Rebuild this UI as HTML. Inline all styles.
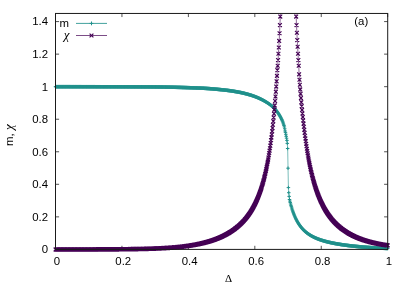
<!DOCTYPE html>
<html><head><meta charset="utf-8"><title>plot</title>
<style>html,body{margin:0;padding:0;background:#fff;font-family:"Liberation Sans",sans-serif;}svg{display:block}</style></head>
<body>
<svg width="408" height="286" viewBox="0 0 408 286">
<rect width="408" height="286" fill="#fff"/>
<path d="M55.5,249.4h3.6M387.7,249.4h-3.6M55.5,216.86h3.6M387.7,216.86h-3.6M55.5,184.31h3.6M387.7,184.31h-3.6M55.5,151.77h3.6M387.7,151.77h-3.6M55.5,119.22h3.6M387.7,119.22h-3.6M55.5,86.68h3.6M387.7,86.68h-3.6M55.5,54.13h3.6M387.7,54.13h-3.6M55.5,21.59h3.6M387.7,21.59h-3.6M55.5,249.4v-3.6M55.5,13.45v3.6M121.94,249.4v-3.6M121.94,13.45v3.6M188.38,249.4v-3.6M188.38,13.45v3.6M254.82,249.4v-3.6M254.82,13.45v3.6M321.26,249.4v-3.6M321.26,13.45v3.6M387.7,249.4v-3.6M387.7,13.45v3.6" stroke="#1a1a1a" stroke-opacity="0.75" stroke-width="1" fill="none"/>
<g fill="none" stroke="#21918c" stroke-width="1">
<path d="M55.5,86.7 L55.87,86.7 L56.24,86.7 L56.61,86.7 L56.98,86.7 L57.35,86.7 L57.71,86.7 L58.08,86.7 L58.45,86.7 L58.82,86.7 L59.19,86.7 L59.56,86.7 L59.93,86.7 L60.3,86.7 L60.67,86.7 L61.04,86.7 L61.41,86.7 L61.77,86.7 L62.14,86.7 L62.51,86.7 L62.88,86.7 L63.25,86.7 L63.62,86.7 L63.99,86.7 L64.36,86.7 L64.73,86.7 L65.1,86.7 L65.47,86.7 L65.84,86.7 L66.2,86.7 L66.57,86.7 L66.94,86.7 L67.31,86.7 L67.68,86.7 L68.05,86.7 L68.42,86.7 L68.79,86.7 L69.16,86.7 L69.53,86.7 L69.9,86.7 L70.26,86.7 L70.63,86.71 L71,86.71 L71.37,86.71 L71.74,86.71 L72.11,86.71 L72.48,86.71 L72.85,86.71 L73.22,86.71 L73.59,86.71 L73.96,86.71 L74.32,86.71 L74.69,86.71 L75.06,86.71 L75.43,86.71 L75.8,86.71 L76.17,86.71 L76.54,86.71 L76.91,86.71 L77.28,86.71 L77.65,86.71 L78.02,86.71 L78.38,86.71 L78.75,86.71 L79.12,86.71 L79.49,86.71 L79.86,86.71 L80.23,86.71 L80.6,86.71 L80.97,86.71 L81.34,86.71 L81.71,86.72 L82.08,86.72 L82.45,86.72 L82.81,86.72 L83.18,86.72 L83.55,86.72 L83.92,86.72 L84.29,86.72 L84.66,86.72 L85.03,86.72 L85.4,86.72 L85.77,86.72 L86.14,86.72 L86.51,86.72 L86.87,86.72 L87.24,86.72 L87.61,86.72 L87.98,86.72 L88.35,86.72 L88.72,86.72 L89.09,86.73 L89.46,86.73 L89.83,86.73 L90.2,86.73 L90.57,86.73 L90.93,86.73 L91.3,86.73 L91.67,86.73 L92.04,86.73 L92.41,86.73 L92.78,86.73 L93.15,86.73 L93.52,86.73 L93.89,86.73 L94.26,86.73 L94.63,86.73 L94.99,86.73 L95.36,86.74 L95.73,86.74 L96.1,86.74 L96.47,86.74 L96.84,86.74 L97.21,86.74 L97.58,86.74 L97.95,86.74 L98.32,86.74 L98.69,86.74 L99.06,86.74 L99.42,86.74 L99.79,86.74 L100.16,86.74 L100.53,86.75 L100.9,86.75 L101.27,86.75 L101.64,86.75 L102.01,86.75 L102.38,86.75 L102.75,86.75 L103.12,86.75 L103.48,86.75 L103.85,86.75 L104.22,86.75 L104.59,86.75 L104.96,86.75 L105.33,86.76 L105.7,86.76 L106.07,86.76 L106.44,86.76 L106.81,86.76 L107.18,86.76 L107.54,86.76 L107.91,86.76 L108.28,86.76 L108.65,86.76 L109.02,86.76 L109.39,86.76 L109.76,86.77 L110.13,86.77 L110.5,86.77 L110.87,86.77 L111.24,86.77 L111.6,86.77 L111.97,86.77 L112.34,86.77 L112.71,86.77 L113.08,86.77 L113.45,86.77 L113.82,86.78 L114.19,86.78 L114.56,86.78 L114.93,86.78 L115.3,86.78 L115.67,86.78 L116.03,86.78 L116.4,86.78 L116.77,86.78 L117.14,86.78 L117.51,86.79 L117.88,86.79 L118.25,86.79 L118.62,86.79 L118.99,86.79 L119.36,86.79 L119.73,86.79 L120.09,86.79 L120.46,86.79 L120.83,86.8 L121.2,86.8 L121.57,86.8 L121.94,86.8 L122.31,86.8 L122.68,86.8 L123.05,86.8 L123.42,86.8 L123.79,86.8 L124.15,86.81 L124.52,86.81 L124.89,86.81 L125.26,86.81 L125.63,86.81 L126,86.81 L126.37,86.81 L126.74,86.81 L127.11,86.81 L127.48,86.82 L127.85,86.82 L128.21,86.82 L128.58,86.82 L128.95,86.82 L129.32,86.82 L129.69,86.82 L130.06,86.82 L130.43,86.83 L130.8,86.83 L131.17,86.83 L131.54,86.83 L131.91,86.83 L132.28,86.83 L132.64,86.83 L133.01,86.83 L133.38,86.84 L133.75,86.84 L134.12,86.84 L134.49,86.84 L134.86,86.84 L135.23,86.84 L135.6,86.84 L135.97,86.84 L136.34,86.85 L136.7,86.85 L137.07,86.85 L137.44,86.85 L137.81,86.85 L138.18,86.85 L138.55,86.85 L138.92,86.86 L139.29,86.86 L139.66,86.86 L140.03,86.86 L140.4,86.86 L140.76,86.86 L141.13,86.86 L141.5,86.87 L141.87,86.87 L142.24,86.87 L142.61,86.87 L142.98,86.87 L143.35,86.87 L143.72,86.87 L144.09,86.88 L144.46,86.88 L144.82,86.88 L145.19,86.88 L145.56,86.88 L145.93,86.88 L146.3,86.88 L146.67,86.89 L147.04,86.89 L147.41,86.89 L147.78,86.89 L148.15,86.89 L148.52,86.89 L148.89,86.9 L149.25,86.9 L149.62,86.9 L149.99,86.9 L150.36,86.9 L150.73,86.9 L151.1,86.91 L151.47,86.91 L151.84,86.91 L152.21,86.91 L152.58,86.91 L152.95,86.92 L153.31,86.92 L153.68,86.92 L154.05,86.93 L154.42,86.93 L154.79,86.93 L155.16,86.93 L155.53,86.94 L155.9,86.94 L156.27,86.95 L156.64,86.95 L157.01,86.95 L157.37,86.96 L157.74,86.96 L158.11,86.97 L158.48,86.97 L158.85,86.97 L159.22,86.98 L159.59,86.98 L159.96,86.99 L160.33,86.99 L160.7,87 L161.07,87 L161.43,87.01 L161.8,87.01 L162.17,87.02 L162.54,87.03 L162.91,87.03 L163.28,87.04 L163.65,87.04 L164.02,87.05 L164.39,87.06 L164.76,87.06 L165.13,87.07 L165.5,87.08 L165.86,87.08 L166.23,87.09 L166.6,87.1 L166.97,87.1 L167.34,87.11 L167.71,87.12 L168.08,87.12 L168.45,87.13 L168.82,87.14 L169.19,87.15 L169.56,87.16 L169.92,87.16 L170.29,87.17 L170.66,87.18 L171.03,87.19 L171.4,87.2 L171.77,87.2 L172.14,87.21 L172.51,87.22 L172.88,87.23 L173.25,87.24 L173.62,87.25 L173.98,87.26 L174.35,87.27 L174.72,87.27 L175.09,87.28 L175.46,87.29 L175.83,87.3 L176.2,87.31 L176.57,87.32 L176.94,87.33 L177.31,87.34 L177.68,87.35 L178.04,87.36 L178.41,87.37 L178.78,87.38 L179.15,87.39 L179.52,87.4 L179.89,87.41 L180.26,87.42 L180.63,87.43 L181,87.44 L181.37,87.45 L181.74,87.47 L182.11,87.48 L182.47,87.49 L182.84,87.5 L183.21,87.51 L183.58,87.52 L183.95,87.53 L184.32,87.54 L184.69,87.56 L185.06,87.57 L185.43,87.58 L185.8,87.59 L186.17,87.6 L186.53,87.61 L186.9,87.63 L187.27,87.64 L187.64,87.65 L188.01,87.66 L188.38,87.68 L188.75,87.69 L189.12,87.7 L189.49,87.71 L189.86,87.73 L190.23,87.74 L190.59,87.75 L190.96,87.76 L191.33,87.78 L191.7,87.79 L192.07,87.8 L192.44,87.82 L192.81,87.83 L193.18,87.84 L193.55,87.86 L193.92,87.87 L194.29,87.88 L194.65,87.9 L195.02,87.91 L195.39,87.92 L195.76,87.94 L196.13,87.95 L196.5,87.97 L196.87,87.98 L197.24,87.99 L197.61,88.01 L197.98,88.02 L198.35,88.04 L198.72,88.05 L199.08,88.06 L199.45,88.08 L199.82,88.09 L200.19,88.11 L200.56,88.12 L200.93,88.14 L201.3,88.15 L201.67,88.17 L202.04,88.19 L202.41,88.21 L202.78,88.23 L203.14,88.24 L203.51,88.26 L203.88,88.28 L204.25,88.3 L204.62,88.33 L204.99,88.35 L205.36,88.37 L205.73,88.39 L206.1,88.41 L206.47,88.44 L206.84,88.46 L207.2,88.49 L207.57,88.51 L207.94,88.54 L208.31,88.56 L208.68,88.59 L209.05,88.62 L209.42,88.64 L209.79,88.67 L210.16,88.7 L210.53,88.73 L210.9,88.76 L211.26,88.78 L211.63,88.81 L212,88.84 L212.37,88.87 L212.74,88.91 L213.11,88.94 L213.48,88.97 L213.85,89 L214.22,89.03 L214.59,89.06 L214.96,89.1 L215.33,89.13 L215.69,89.16 L216.06,89.2 L216.43,89.23 L216.8,89.27 L217.17,89.3 L217.54,89.34 L217.91,89.37 L218.28,89.41 L218.65,89.44 L219.02,89.48 L219.39,89.52 L219.75,89.55 L220.12,89.59 L220.49,89.63 L220.86,89.67 L221.23,89.7 L221.6,89.74 L221.97,89.78 L222.34,89.82 L222.71,89.86 L223.08,89.89 L223.45,89.93 L223.81,89.97 L224.18,90.01 L224.55,90.05 L224.92,90.09 L225.29,90.13 L225.66,90.17 L226.03,90.21 L226.4,90.26 L226.77,90.3 L227.14,90.35 L227.51,90.39 L227.87,90.44 L228.24,90.49 L228.61,90.53 L228.98,90.58 L229.35,90.63 L229.72,90.68 L230.09,90.73 L230.46,90.79 L230.83,90.84 L231.2,90.89 L231.57,90.95 L231.94,91 L232.3,91.06 L232.67,91.12 L233.04,91.18 L233.41,91.23 L233.78,91.29 L234.15,91.35 L234.52,91.41 L234.89,91.48 L235.26,91.54 L235.63,91.6 L236,91.66 L236.36,91.73 L236.73,91.79 L237.1,91.86 L237.47,91.93 L237.84,91.99 L238.21,92.06 L238.58,92.13 L238.95,92.2 L239.32,92.27 L239.69,92.34 L240.06,92.41 L240.42,92.48 L240.79,92.56 L241.16,92.63 L241.53,92.71 L241.9,92.79 L242.27,92.87 L242.64,92.96 L243.01,93.04 L243.38,93.13 L243.75,93.22 L244.12,93.3 L244.48,93.4 L244.85,93.49 L245.22,93.58 L245.59,93.68 L245.96,93.77 L246.33,93.87 L246.7,93.97 L247.07,94.07 L247.44,94.17 L247.81,94.27 L248.18,94.38 L248.55,94.48 L248.91,94.59 L249.28,94.69 L249.65,94.8 L250.02,94.91 L250.39,95.02 L250.76,95.13 L251.13,95.25 L251.5,95.36 L251.87,95.48 L252.24,95.61 L252.61,95.73 L252.97,95.86 L253.34,95.99 L253.71,96.13 L254.08,96.26 L254.45,96.4 L254.82,96.53 L255.19,96.67 L255.56,96.81 L255.93,96.96 L256.3,97.1 L256.67,97.25 L257.03,97.4 L257.4,97.55 L257.77,97.71 L258.14,97.87 L258.51,98.03 L258.88,98.19 L259.25,98.35 L259.62,98.52 L259.99,98.69 L260.36,98.87 L260.73,99.05 L261.09,99.23 L261.46,99.41 L261.83,99.6 L262.2,99.79 L262.57,99.98 L262.94,100.17 L263.31,100.37 L263.68,100.58 L264.05,100.78 L264.42,100.99 L264.79,101.2 L265.16,101.42 L265.52,101.63 L265.89,101.85 L266.26,102.08 L266.63,102.31 L267,102.54 L267.37,102.77 L267.74,103.01 L268.11,103.26 L268.48,103.51 L268.85,103.77 L269.22,104.03 L269.58,104.29 L269.95,104.57 L270.32,104.84 L270.69,105.12 L271.06,105.41 L271.43,105.7 L271.8,105.99 L272.17,106.3 L272.54,106.61 L272.91,106.94 L273.28,107.28 L273.64,107.64 L274.01,108.01 L274.38,108.39 L274.75,108.79 L275.12,109.2 L275.49,109.63 L275.86,110.07 L276.23,110.52 L276.6,110.99 L276.97,111.47 L277.34,111.97 L277.7,112.49 L278.07,113.03 L278.44,113.58 L278.81,114.15 L279.18,114.74 L279.55,115.36 L279.92,115.99 L280.29,116.64 L280.66,117.32 L281.03,118.02 L281.4,118.74 L281.77,119.5 L282.13,120.31 L282.5,121.18 L282.87,122.12 L283.24,123.15 L283.61,124.28 L283.98,125.51 L284.35,126.9 L284.72,128.77 L285.09,130.96 L285.46,132.4 L285.83,134.3 L286.19,136.3 L286.56,138.2 L286.93,140.4 L287.3,143.4 L287.67,148.5 L288.04,168.2 L288.41,187.6 L288.78,192.7 L289.15,196.4 L289.52,199.5 L289.89,201.07 L290.25,202.57 L290.62,204 L290.99,205.37 L291.36,206.67 L291.73,207.92 L292.1,209.11 L292.47,210.25 L292.84,211.34 L293.21,212.39 L293.58,213.39 L293.95,214.35 L294.31,215.27 L294.68,216.16 L295.05,217.01 L295.42,217.82 L295.79,218.61 L296.16,219.36 L296.53,220.09 L296.9,220.79 L297.27,221.46 L297.64,222.11 L298.01,222.73 L298.38,223.34 L298.74,223.92 L299.11,224.48 L299.48,225.02 L299.85,225.54 L300.22,226.05 L300.59,226.54 L300.96,227.01 L301.33,227.47 L301.7,227.91 L302.07,228.34 L302.44,228.76 L302.8,229.16 L303.17,229.55 L303.54,229.93 L303.91,230.29 L304.28,230.65 L304.65,230.99 L305.02,231.33 L305.39,231.66 L305.76,231.97 L306.13,232.28 L306.5,232.58 L306.86,232.87 L307.23,233.15 L307.6,233.43 L307.97,233.7 L308.34,233.96 L308.71,234.21 L309.08,234.46 L309.45,234.7 L309.82,234.94 L310.19,235.17 L310.56,235.39 L310.92,235.61 L311.29,235.82 L311.66,236.03 L312.03,236.24 L312.4,236.43 L312.77,236.63 L313.14,236.82 L313.51,237 L313.88,237.19 L314.25,237.36 L314.62,237.54 L314.99,237.71 L315.35,237.87 L315.72,238.04 L316.09,238.19 L316.46,238.35 L316.83,238.5 L317.2,238.65 L317.57,238.8 L317.94,238.94 L318.31,239.09 L318.68,239.22 L319.05,239.36 L319.41,239.49 L319.78,239.62 L320.15,239.75 L320.52,239.88 L320.89,240 L321.26,240.12 L321.63,240.24 L322,240.36 L322.37,240.48 L322.74,240.59 L323.11,240.7 L323.47,240.81 L323.84,240.92 L324.21,241.02 L324.58,241.13 L324.95,241.23 L325.32,241.33 L325.69,241.43 L326.06,241.53 L326.43,241.62 L326.8,241.72 L327.17,241.81 L327.53,241.9 L327.9,242 L328.27,242.08 L328.64,242.17 L329.01,242.26 L329.38,242.34 L329.75,242.43 L330.12,242.51 L330.49,242.59 L330.86,242.67 L331.23,242.75 L331.6,242.83 L331.96,242.91 L332.33,242.99 L332.7,243.06 L333.07,243.13 L333.44,243.21 L333.81,243.28 L334.18,243.35 L334.55,243.42 L334.92,243.49 L335.29,243.56 L335.66,243.63 L336.02,243.7 L336.39,243.76 L336.76,243.83 L337.13,243.89 L337.5,243.96 L337.87,244.02 L338.24,244.08 L338.61,244.14 L338.98,244.2 L339.35,244.26 L339.72,244.32 L340.08,244.38 L340.45,244.44 L340.82,244.5 L341.19,244.55 L341.56,244.61 L341.93,244.67 L342.3,244.72 L342.67,244.77 L343.04,244.83 L343.41,244.88 L343.78,244.93 L344.14,244.99 L344.51,245.04 L344.88,245.09 L345.25,245.14 L345.62,245.19 L345.99,245.24 L346.36,245.28 L346.73,245.33 L347.1,245.38 L347.47,245.43 L347.84,245.47 L348.21,245.52 L348.57,245.57 L348.94,245.61 L349.31,245.66 L349.68,245.7 L350.05,245.74 L350.42,245.79 L350.79,245.83 L351.16,245.87 L351.53,245.91 L351.9,245.95 L352.27,246 L352.63,246.04 L353,246.08 L353.37,246.12 L353.74,246.16 L354.11,246.19 L354.48,246.23 L354.85,246.27 L355.22,246.31 L355.59,246.35 L355.96,246.38 L356.33,246.42 L356.69,246.46 L357.06,246.49 L357.43,246.53 L357.8,246.56 L358.17,246.6 L358.54,246.63 L358.91,246.67 L359.28,246.7 L359.65,246.73 L360.02,246.77 L360.39,246.8 L360.75,246.83 L361.12,246.86 L361.49,246.9 L361.86,246.93 L362.23,246.96 L362.6,246.99 L362.97,247.02 L363.34,247.05 L363.71,247.08 L364.08,247.11 L364.45,247.14 L364.82,247.17 L365.18,247.2 L365.55,247.22 L365.92,247.25 L366.29,247.28 L366.66,247.31 L367.03,247.33 L367.4,247.36 L367.77,247.39 L368.14,247.41 L368.51,247.44 L368.88,247.47 L369.24,247.49 L369.61,247.52 L369.98,247.54 L370.35,247.57 L370.72,247.59 L371.09,247.62 L371.46,247.64 L371.83,247.66 L372.2,247.69 L372.57,247.71 L372.94,247.73 L373.3,247.76 L373.67,247.78 L374.04,247.8 L374.41,247.82 L374.78,247.84 L375.15,247.87 L375.52,247.89 L375.89,247.91 L376.26,247.93 L376.63,247.95 L377,247.97 L377.36,247.99 L377.73,248.01 L378.1,248.03 L378.47,248.05 L378.84,248.07 L379.21,248.09 L379.58,248.11 L379.95,248.12 L380.32,248.14 L380.69,248.16 L381.06,248.18 L381.43,248.2 L381.79,248.21 L382.16,248.23 L382.53,248.25 L382.9,248.27 L383.27,248.28 L383.64,248.3 L384.01,248.32 L384.38,248.33 L384.75,248.35 L385.12,248.36 L385.49,248.38 L385.85,248.39 L386.22,248.41 L386.59,248.43 L386.96,248.44 L387.33,248.46 L387.7,248.47" stroke-opacity="0.6"/>
<path d="M53.75,86.7h3.5M55.5,84.95v3.5M54.12,86.7h3.5M55.87,84.95v3.5M54.49,86.7h3.5M56.24,84.95v3.5M54.86,86.7h3.5M56.61,84.95v3.5M55.23,86.7h3.5M56.98,84.95v3.5M55.6,86.7h3.5M57.35,84.95v3.5M55.96,86.7h3.5M57.71,84.95v3.5M56.33,86.7h3.5M58.08,84.95v3.5M56.7,86.7h3.5M58.45,84.95v3.5M57.07,86.7h3.5M58.82,84.95v3.5M57.44,86.7h3.5M59.19,84.95v3.5M57.81,86.7h3.5M59.56,84.95v3.5M58.18,86.7h3.5M59.93,84.95v3.5M58.55,86.7h3.5M60.3,84.95v3.5M58.92,86.7h3.5M60.67,84.95v3.5M59.29,86.7h3.5M61.04,84.95v3.5M59.66,86.7h3.5M61.41,84.95v3.5M60.02,86.7h3.5M61.77,84.95v3.5M60.39,86.7h3.5M62.14,84.95v3.5M60.76,86.7h3.5M62.51,84.95v3.5M61.13,86.7h3.5M62.88,84.95v3.5M61.5,86.7h3.5M63.25,84.95v3.5M61.87,86.7h3.5M63.62,84.95v3.5M62.24,86.7h3.5M63.99,84.95v3.5M62.61,86.7h3.5M64.36,84.95v3.5M62.98,86.7h3.5M64.73,84.95v3.5M63.35,86.7h3.5M65.1,84.95v3.5M63.72,86.7h3.5M65.47,84.95v3.5M64.09,86.7h3.5M65.84,84.95v3.5M64.45,86.7h3.5M66.2,84.95v3.5M64.82,86.7h3.5M66.57,84.95v3.5M65.19,86.7h3.5M66.94,84.95v3.5M65.56,86.7h3.5M67.31,84.95v3.5M65.93,86.7h3.5M67.68,84.95v3.5M66.3,86.7h3.5M68.05,84.95v3.5M66.67,86.7h3.5M68.42,84.95v3.5M67.04,86.7h3.5M68.79,84.95v3.5M67.41,86.7h3.5M69.16,84.95v3.5M67.78,86.7h3.5M69.53,84.95v3.5M68.15,86.7h3.5M69.9,84.95v3.5M68.51,86.7h3.5M70.26,84.95v3.5M68.88,86.71h3.5M70.63,84.96v3.5M69.25,86.71h3.5M71,84.96v3.5M69.62,86.71h3.5M71.37,84.96v3.5M69.99,86.71h3.5M71.74,84.96v3.5M70.36,86.71h3.5M72.11,84.96v3.5M70.73,86.71h3.5M72.48,84.96v3.5M71.1,86.71h3.5M72.85,84.96v3.5M71.47,86.71h3.5M73.22,84.96v3.5M71.84,86.71h3.5M73.59,84.96v3.5M72.21,86.71h3.5M73.96,84.96v3.5M72.57,86.71h3.5M74.32,84.96v3.5M72.94,86.71h3.5M74.69,84.96v3.5M73.31,86.71h3.5M75.06,84.96v3.5M73.68,86.71h3.5M75.43,84.96v3.5M74.05,86.71h3.5M75.8,84.96v3.5M74.42,86.71h3.5M76.17,84.96v3.5M74.79,86.71h3.5M76.54,84.96v3.5M75.16,86.71h3.5M76.91,84.96v3.5M75.53,86.71h3.5M77.28,84.96v3.5M75.9,86.71h3.5M77.65,84.96v3.5M76.27,86.71h3.5M78.02,84.96v3.5M76.63,86.71h3.5M78.38,84.96v3.5M77,86.71h3.5M78.75,84.96v3.5M77.37,86.71h3.5M79.12,84.96v3.5M77.74,86.71h3.5M79.49,84.96v3.5M78.11,86.71h3.5M79.86,84.96v3.5M78.48,86.71h3.5M80.23,84.96v3.5M78.85,86.71h3.5M80.6,84.96v3.5M79.22,86.71h3.5M80.97,84.96v3.5M79.59,86.71h3.5M81.34,84.96v3.5M79.96,86.72h3.5M81.71,84.97v3.5M80.33,86.72h3.5M82.08,84.97v3.5M80.7,86.72h3.5M82.45,84.97v3.5M81.06,86.72h3.5M82.81,84.97v3.5M81.43,86.72h3.5M83.18,84.97v3.5M81.8,86.72h3.5M83.55,84.97v3.5M82.17,86.72h3.5M83.92,84.97v3.5M82.54,86.72h3.5M84.29,84.97v3.5M82.91,86.72h3.5M84.66,84.97v3.5M83.28,86.72h3.5M85.03,84.97v3.5M83.65,86.72h3.5M85.4,84.97v3.5M84.02,86.72h3.5M85.77,84.97v3.5M84.39,86.72h3.5M86.14,84.97v3.5M84.76,86.72h3.5M86.51,84.97v3.5M85.12,86.72h3.5M86.87,84.97v3.5M85.49,86.72h3.5M87.24,84.97v3.5M85.86,86.72h3.5M87.61,84.97v3.5M86.23,86.72h3.5M87.98,84.97v3.5M86.6,86.72h3.5M88.35,84.97v3.5M86.97,86.72h3.5M88.72,84.97v3.5M87.34,86.73h3.5M89.09,84.98v3.5M87.71,86.73h3.5M89.46,84.98v3.5M88.08,86.73h3.5M89.83,84.98v3.5M88.45,86.73h3.5M90.2,84.98v3.5M88.82,86.73h3.5M90.57,84.98v3.5M89.18,86.73h3.5M90.93,84.98v3.5M89.55,86.73h3.5M91.3,84.98v3.5M89.92,86.73h3.5M91.67,84.98v3.5M90.29,86.73h3.5M92.04,84.98v3.5M90.66,86.73h3.5M92.41,84.98v3.5M91.03,86.73h3.5M92.78,84.98v3.5M91.4,86.73h3.5M93.15,84.98v3.5M91.77,86.73h3.5M93.52,84.98v3.5M92.14,86.73h3.5M93.89,84.98v3.5M92.51,86.73h3.5M94.26,84.98v3.5M92.88,86.73h3.5M94.63,84.98v3.5M93.24,86.73h3.5M94.99,84.98v3.5M93.61,86.74h3.5M95.36,84.99v3.5M93.98,86.74h3.5M95.73,84.99v3.5M94.35,86.74h3.5M96.1,84.99v3.5M94.72,86.74h3.5M96.47,84.99v3.5M95.09,86.74h3.5M96.84,84.99v3.5M95.46,86.74h3.5M97.21,84.99v3.5M95.83,86.74h3.5M97.58,84.99v3.5M96.2,86.74h3.5M97.95,84.99v3.5M96.57,86.74h3.5M98.32,84.99v3.5M96.94,86.74h3.5M98.69,84.99v3.5M97.31,86.74h3.5M99.06,84.99v3.5M97.67,86.74h3.5M99.42,84.99v3.5M98.04,86.74h3.5M99.79,84.99v3.5M98.41,86.74h3.5M100.16,84.99v3.5M98.78,86.75h3.5M100.53,85v3.5M99.15,86.75h3.5M100.9,85v3.5M99.52,86.75h3.5M101.27,85v3.5M99.89,86.75h3.5M101.64,85v3.5M100.26,86.75h3.5M102.01,85v3.5M100.63,86.75h3.5M102.38,85v3.5M101,86.75h3.5M102.75,85v3.5M101.37,86.75h3.5M103.12,85v3.5M101.73,86.75h3.5M103.48,85v3.5M102.1,86.75h3.5M103.85,85v3.5M102.47,86.75h3.5M104.22,85v3.5M102.84,86.75h3.5M104.59,85v3.5M103.21,86.75h3.5M104.96,85v3.5M103.58,86.76h3.5M105.33,85.01v3.5M103.95,86.76h3.5M105.7,85.01v3.5M104.32,86.76h3.5M106.07,85.01v3.5M104.69,86.76h3.5M106.44,85.01v3.5M105.06,86.76h3.5M106.81,85.01v3.5M105.43,86.76h3.5M107.18,85.01v3.5M105.79,86.76h3.5M107.54,85.01v3.5M106.16,86.76h3.5M107.91,85.01v3.5M106.53,86.76h3.5M108.28,85.01v3.5M106.9,86.76h3.5M108.65,85.01v3.5M107.27,86.76h3.5M109.02,85.01v3.5M107.64,86.76h3.5M109.39,85.01v3.5M108.01,86.77h3.5M109.76,85.02v3.5M108.38,86.77h3.5M110.13,85.02v3.5M108.75,86.77h3.5M110.5,85.02v3.5M109.12,86.77h3.5M110.87,85.02v3.5M109.49,86.77h3.5M111.24,85.02v3.5M109.85,86.77h3.5M111.6,85.02v3.5M110.22,86.77h3.5M111.97,85.02v3.5M110.59,86.77h3.5M112.34,85.02v3.5M110.96,86.77h3.5M112.71,85.02v3.5M111.33,86.77h3.5M113.08,85.02v3.5M111.7,86.77h3.5M113.45,85.02v3.5M112.07,86.78h3.5M113.82,85.03v3.5M112.44,86.78h3.5M114.19,85.03v3.5M112.81,86.78h3.5M114.56,85.03v3.5M113.18,86.78h3.5M114.93,85.03v3.5M113.55,86.78h3.5M115.3,85.03v3.5M113.92,86.78h3.5M115.67,85.03v3.5M114.28,86.78h3.5M116.03,85.03v3.5M114.65,86.78h3.5M116.4,85.03v3.5M115.02,86.78h3.5M116.77,85.03v3.5M115.39,86.78h3.5M117.14,85.03v3.5M115.76,86.79h3.5M117.51,85.04v3.5M116.13,86.79h3.5M117.88,85.04v3.5M116.5,86.79h3.5M118.25,85.04v3.5M116.87,86.79h3.5M118.62,85.04v3.5M117.24,86.79h3.5M118.99,85.04v3.5M117.61,86.79h3.5M119.36,85.04v3.5M117.98,86.79h3.5M119.73,85.04v3.5M118.34,86.79h3.5M120.09,85.04v3.5M118.71,86.79h3.5M120.46,85.04v3.5M119.08,86.8h3.5M120.83,85.05v3.5M119.45,86.8h3.5M121.2,85.05v3.5M119.82,86.8h3.5M121.57,85.05v3.5M120.19,86.8h3.5M121.94,85.05v3.5M120.56,86.8h3.5M122.31,85.05v3.5M120.93,86.8h3.5M122.68,85.05v3.5M121.3,86.8h3.5M123.05,85.05v3.5M121.67,86.8h3.5M123.42,85.05v3.5M122.04,86.8h3.5M123.79,85.05v3.5M122.4,86.81h3.5M124.15,85.06v3.5M122.77,86.81h3.5M124.52,85.06v3.5M123.14,86.81h3.5M124.89,85.06v3.5M123.51,86.81h3.5M125.26,85.06v3.5M123.88,86.81h3.5M125.63,85.06v3.5M124.25,86.81h3.5M126,85.06v3.5M124.62,86.81h3.5M126.37,85.06v3.5M124.99,86.81h3.5M126.74,85.06v3.5M125.36,86.81h3.5M127.11,85.06v3.5M125.73,86.82h3.5M127.48,85.07v3.5M126.1,86.82h3.5M127.85,85.07v3.5M126.46,86.82h3.5M128.21,85.07v3.5M126.83,86.82h3.5M128.58,85.07v3.5M127.2,86.82h3.5M128.95,85.07v3.5M127.57,86.82h3.5M129.32,85.07v3.5M127.94,86.82h3.5M129.69,85.07v3.5M128.31,86.82h3.5M130.06,85.07v3.5M128.68,86.83h3.5M130.43,85.08v3.5M129.05,86.83h3.5M130.8,85.08v3.5M129.42,86.83h3.5M131.17,85.08v3.5M129.79,86.83h3.5M131.54,85.08v3.5M130.16,86.83h3.5M131.91,85.08v3.5M130.53,86.83h3.5M132.28,85.08v3.5M130.89,86.83h3.5M132.64,85.08v3.5M131.26,86.83h3.5M133.01,85.08v3.5M131.63,86.84h3.5M133.38,85.09v3.5M132,86.84h3.5M133.75,85.09v3.5M132.37,86.84h3.5M134.12,85.09v3.5M132.74,86.84h3.5M134.49,85.09v3.5M133.11,86.84h3.5M134.86,85.09v3.5M133.48,86.84h3.5M135.23,85.09v3.5M133.85,86.84h3.5M135.6,85.09v3.5M134.22,86.84h3.5M135.97,85.09v3.5M134.59,86.85h3.5M136.34,85.1v3.5M134.95,86.85h3.5M136.7,85.1v3.5M135.32,86.85h3.5M137.07,85.1v3.5M135.69,86.85h3.5M137.44,85.1v3.5M136.06,86.85h3.5M137.81,85.1v3.5M136.43,86.85h3.5M138.18,85.1v3.5M136.8,86.85h3.5M138.55,85.1v3.5M137.17,86.86h3.5M138.92,85.11v3.5M137.54,86.86h3.5M139.29,85.11v3.5M137.91,86.86h3.5M139.66,85.11v3.5M138.28,86.86h3.5M140.03,85.11v3.5M138.65,86.86h3.5M140.4,85.11v3.5M139.01,86.86h3.5M140.76,85.11v3.5M139.38,86.86h3.5M141.13,85.11v3.5M139.75,86.87h3.5M141.5,85.12v3.5M140.12,86.87h3.5M141.87,85.12v3.5M140.49,86.87h3.5M142.24,85.12v3.5M140.86,86.87h3.5M142.61,85.12v3.5M141.23,86.87h3.5M142.98,85.12v3.5M141.6,86.87h3.5M143.35,85.12v3.5M141.97,86.87h3.5M143.72,85.12v3.5M142.34,86.88h3.5M144.09,85.13v3.5M142.71,86.88h3.5M144.46,85.13v3.5M143.07,86.88h3.5M144.82,85.13v3.5M143.44,86.88h3.5M145.19,85.13v3.5M143.81,86.88h3.5M145.56,85.13v3.5M144.18,86.88h3.5M145.93,85.13v3.5M144.55,86.88h3.5M146.3,85.13v3.5M144.92,86.89h3.5M146.67,85.14v3.5M145.29,86.89h3.5M147.04,85.14v3.5M145.66,86.89h3.5M147.41,85.14v3.5M146.03,86.89h3.5M147.78,85.14v3.5M146.4,86.89h3.5M148.15,85.14v3.5M146.77,86.89h3.5M148.52,85.14v3.5M147.14,86.9h3.5M148.89,85.15v3.5M147.5,86.9h3.5M149.25,85.15v3.5M147.87,86.9h3.5M149.62,85.15v3.5M148.24,86.9h3.5M149.99,85.15v3.5M148.61,86.9h3.5M150.36,85.15v3.5M148.98,86.9h3.5M150.73,85.15v3.5M149.35,86.91h3.5M151.1,85.16v3.5M149.72,86.91h3.5M151.47,85.16v3.5M150.09,86.91h3.5M151.84,85.16v3.5M150.46,86.91h3.5M152.21,85.16v3.5M150.83,86.91h3.5M152.58,85.16v3.5M151.2,86.92h3.5M152.95,85.17v3.5M151.56,86.92h3.5M153.31,85.17v3.5M151.93,86.92h3.5M153.68,85.17v3.5M152.3,86.93h3.5M154.05,85.18v3.5M152.67,86.93h3.5M154.42,85.18v3.5M153.04,86.93h3.5M154.79,85.18v3.5M153.41,86.93h3.5M155.16,85.18v3.5M153.78,86.94h3.5M155.53,85.19v3.5M154.15,86.94h3.5M155.9,85.19v3.5M154.52,86.95h3.5M156.27,85.2v3.5M154.89,86.95h3.5M156.64,85.2v3.5M155.26,86.95h3.5M157.01,85.2v3.5M155.62,86.96h3.5M157.37,85.21v3.5M155.99,86.96h3.5M157.74,85.21v3.5M156.36,86.97h3.5M158.11,85.22v3.5M156.73,86.97h3.5M158.48,85.22v3.5M157.1,86.97h3.5M158.85,85.22v3.5M157.47,86.98h3.5M159.22,85.23v3.5M157.84,86.98h3.5M159.59,85.23v3.5M158.21,86.99h3.5M159.96,85.24v3.5M158.58,86.99h3.5M160.33,85.24v3.5M158.95,87h3.5M160.7,85.25v3.5M159.32,87h3.5M161.07,85.25v3.5M159.68,87.01h3.5M161.43,85.26v3.5M160.05,87.01h3.5M161.8,85.26v3.5M160.42,87.02h3.5M162.17,85.27v3.5M160.79,87.03h3.5M162.54,85.28v3.5M161.16,87.03h3.5M162.91,85.28v3.5M161.53,87.04h3.5M163.28,85.29v3.5M161.9,87.04h3.5M163.65,85.29v3.5M162.27,87.05h3.5M164.02,85.3v3.5M162.64,87.06h3.5M164.39,85.31v3.5M163.01,87.06h3.5M164.76,85.31v3.5M163.38,87.07h3.5M165.13,85.32v3.5M163.75,87.08h3.5M165.5,85.33v3.5M164.11,87.08h3.5M165.86,85.33v3.5M164.48,87.09h3.5M166.23,85.34v3.5M164.85,87.1h3.5M166.6,85.35v3.5M165.22,87.1h3.5M166.97,85.35v3.5M165.59,87.11h3.5M167.34,85.36v3.5M165.96,87.12h3.5M167.71,85.37v3.5M166.33,87.12h3.5M168.08,85.37v3.5M166.7,87.13h3.5M168.45,85.38v3.5M167.07,87.14h3.5M168.82,85.39v3.5M167.44,87.15h3.5M169.19,85.4v3.5M167.81,87.16h3.5M169.56,85.41v3.5M168.17,87.16h3.5M169.92,85.41v3.5M168.54,87.17h3.5M170.29,85.42v3.5M168.91,87.18h3.5M170.66,85.43v3.5M169.28,87.19h3.5M171.03,85.44v3.5M169.65,87.2h3.5M171.4,85.45v3.5M170.02,87.2h3.5M171.77,85.45v3.5M170.39,87.21h3.5M172.14,85.46v3.5M170.76,87.22h3.5M172.51,85.47v3.5M171.13,87.23h3.5M172.88,85.48v3.5M171.5,87.24h3.5M173.25,85.49v3.5M171.87,87.25h3.5M173.62,85.5v3.5M172.23,87.26h3.5M173.98,85.51v3.5M172.6,87.27h3.5M174.35,85.52v3.5M172.97,87.27h3.5M174.72,85.52v3.5M173.34,87.28h3.5M175.09,85.53v3.5M173.71,87.29h3.5M175.46,85.54v3.5M174.08,87.3h3.5M175.83,85.55v3.5M174.45,87.31h3.5M176.2,85.56v3.5M174.82,87.32h3.5M176.57,85.57v3.5M175.19,87.33h3.5M176.94,85.58v3.5M175.56,87.34h3.5M177.31,85.59v3.5M175.93,87.35h3.5M177.68,85.6v3.5M176.29,87.36h3.5M178.04,85.61v3.5M176.66,87.37h3.5M178.41,85.62v3.5M177.03,87.38h3.5M178.78,85.63v3.5M177.4,87.39h3.5M179.15,85.64v3.5M177.77,87.4h3.5M179.52,85.65v3.5M178.14,87.41h3.5M179.89,85.66v3.5M178.51,87.42h3.5M180.26,85.67v3.5M178.88,87.43h3.5M180.63,85.68v3.5M179.25,87.44h3.5M181,85.69v3.5M179.62,87.45h3.5M181.37,85.7v3.5M179.99,87.47h3.5M181.74,85.72v3.5M180.36,87.48h3.5M182.11,85.73v3.5M180.72,87.49h3.5M182.47,85.74v3.5M181.09,87.5h3.5M182.84,85.75v3.5M181.46,87.51h3.5M183.21,85.76v3.5M181.83,87.52h3.5M183.58,85.77v3.5M182.2,87.53h3.5M183.95,85.78v3.5M182.57,87.54h3.5M184.32,85.79v3.5M182.94,87.56h3.5M184.69,85.81v3.5M183.31,87.57h3.5M185.06,85.82v3.5M183.68,87.58h3.5M185.43,85.83v3.5M184.05,87.59h3.5M185.8,85.84v3.5M184.42,87.6h3.5M186.17,85.85v3.5M184.78,87.61h3.5M186.53,85.86v3.5M185.15,87.63h3.5M186.9,85.88v3.5M185.52,87.64h3.5M187.27,85.89v3.5M185.89,87.65h3.5M187.64,85.9v3.5M186.26,87.66h3.5M188.01,85.91v3.5M186.63,87.68h3.5M188.38,85.93v3.5M187,87.69h3.5M188.75,85.94v3.5M187.37,87.7h3.5M189.12,85.95v3.5M187.74,87.71h3.5M189.49,85.96v3.5M188.11,87.73h3.5M189.86,85.98v3.5M188.48,87.74h3.5M190.23,85.99v3.5M188.84,87.75h3.5M190.59,86v3.5M189.21,87.76h3.5M190.96,86.01v3.5M189.58,87.78h3.5M191.33,86.03v3.5M189.95,87.79h3.5M191.7,86.04v3.5M190.32,87.8h3.5M192.07,86.05v3.5M190.69,87.82h3.5M192.44,86.07v3.5M191.06,87.83h3.5M192.81,86.08v3.5M191.43,87.84h3.5M193.18,86.09v3.5M191.8,87.86h3.5M193.55,86.11v3.5M192.17,87.87h3.5M193.92,86.12v3.5M192.54,87.88h3.5M194.29,86.13v3.5M192.9,87.9h3.5M194.65,86.15v3.5M193.27,87.91h3.5M195.02,86.16v3.5M193.64,87.92h3.5M195.39,86.17v3.5M194.01,87.94h3.5M195.76,86.19v3.5M194.38,87.95h3.5M196.13,86.2v3.5M194.75,87.97h3.5M196.5,86.22v3.5M195.12,87.98h3.5M196.87,86.23v3.5M195.49,87.99h3.5M197.24,86.24v3.5M195.86,88.01h3.5M197.61,86.26v3.5M196.23,88.02h3.5M197.98,86.27v3.5M196.6,88.04h3.5M198.35,86.29v3.5M196.97,88.05h3.5M198.72,86.3v3.5M197.33,88.06h3.5M199.08,86.31v3.5M197.7,88.08h3.5M199.45,86.33v3.5M198.07,88.09h3.5M199.82,86.34v3.5M198.44,88.11h3.5M200.19,86.36v3.5M198.81,88.12h3.5M200.56,86.37v3.5M199.18,88.14h3.5M200.93,86.39v3.5M199.55,88.15h3.5M201.3,86.4v3.5M199.92,88.17h3.5M201.67,86.42v3.5M200.29,88.19h3.5M202.04,86.44v3.5M200.66,88.21h3.5M202.41,86.46v3.5M201.03,88.23h3.5M202.78,86.48v3.5M201.39,88.24h3.5M203.14,86.49v3.5M201.76,88.26h3.5M203.51,86.51v3.5M202.13,88.28h3.5M203.88,86.53v3.5M202.5,88.3h3.5M204.25,86.55v3.5M202.87,88.33h3.5M204.62,86.58v3.5M203.24,88.35h3.5M204.99,86.6v3.5M203.61,88.37h3.5M205.36,86.62v3.5M203.98,88.39h3.5M205.73,86.64v3.5M204.35,88.41h3.5M206.1,86.66v3.5M204.72,88.44h3.5M206.47,86.69v3.5M205.09,88.46h3.5M206.84,86.71v3.5M205.45,88.49h3.5M207.2,86.74v3.5M205.82,88.51h3.5M207.57,86.76v3.5M206.19,88.54h3.5M207.94,86.79v3.5M206.56,88.56h3.5M208.31,86.81v3.5M206.93,88.59h3.5M208.68,86.84v3.5M207.3,88.62h3.5M209.05,86.87v3.5M207.67,88.64h3.5M209.42,86.89v3.5M208.04,88.67h3.5M209.79,86.92v3.5M208.41,88.7h3.5M210.16,86.95v3.5M208.78,88.73h3.5M210.53,86.98v3.5M209.15,88.76h3.5M210.9,87.01v3.5M209.51,88.78h3.5M211.26,87.03v3.5M209.88,88.81h3.5M211.63,87.06v3.5M210.25,88.84h3.5M212,87.09v3.5M210.62,88.87h3.5M212.37,87.12v3.5M210.99,88.91h3.5M212.74,87.16v3.5M211.36,88.94h3.5M213.11,87.19v3.5M211.73,88.97h3.5M213.48,87.22v3.5M212.1,89h3.5M213.85,87.25v3.5M212.47,89.03h3.5M214.22,87.28v3.5M212.84,89.06h3.5M214.59,87.31v3.5M213.21,89.1h3.5M214.96,87.35v3.5M213.58,89.13h3.5M215.33,87.38v3.5M213.94,89.16h3.5M215.69,87.41v3.5M214.31,89.2h3.5M216.06,87.45v3.5M214.68,89.23h3.5M216.43,87.48v3.5M215.05,89.27h3.5M216.8,87.52v3.5M215.42,89.3h3.5M217.17,87.55v3.5M215.79,89.34h3.5M217.54,87.59v3.5M216.16,89.37h3.5M217.91,87.62v3.5M216.53,89.41h3.5M218.28,87.66v3.5M216.9,89.44h3.5M218.65,87.69v3.5M217.27,89.48h3.5M219.02,87.73v3.5M217.64,89.52h3.5M219.39,87.77v3.5M218,89.55h3.5M219.75,87.8v3.5M218.37,89.59h3.5M220.12,87.84v3.5M218.74,89.63h3.5M220.49,87.88v3.5M219.11,89.67h3.5M220.86,87.92v3.5M219.48,89.7h3.5M221.23,87.95v3.5M219.85,89.74h3.5M221.6,87.99v3.5M220.22,89.78h3.5M221.97,88.03v3.5M220.59,89.82h3.5M222.34,88.07v3.5M220.96,89.86h3.5M222.71,88.11v3.5M221.33,89.89h3.5M223.08,88.14v3.5M221.7,89.93h3.5M223.45,88.18v3.5M222.06,89.97h3.5M223.81,88.22v3.5M222.43,90.01h3.5M224.18,88.26v3.5M222.8,90.05h3.5M224.55,88.3v3.5M223.17,90.09h3.5M224.92,88.34v3.5M223.54,90.13h3.5M225.29,88.38v3.5M223.91,90.17h3.5M225.66,88.42v3.5M224.28,90.21h3.5M226.03,88.46v3.5M224.65,90.26h3.5M226.4,88.51v3.5M225.02,90.3h3.5M226.77,88.55v3.5M225.39,90.35h3.5M227.14,88.6v3.5M225.76,90.39h3.5M227.51,88.64v3.5M226.12,90.44h3.5M227.87,88.69v3.5M226.49,90.49h3.5M228.24,88.74v3.5M226.86,90.53h3.5M228.61,88.78v3.5M227.23,90.58h3.5M228.98,88.83v3.5M227.6,90.63h3.5M229.35,88.88v3.5M227.97,90.68h3.5M229.72,88.93v3.5M228.34,90.73h3.5M230.09,88.98v3.5M228.71,90.79h3.5M230.46,89.04v3.5M229.08,90.84h3.5M230.83,89.09v3.5M229.45,90.89h3.5M231.2,89.14v3.5M229.82,90.95h3.5M231.57,89.2v3.5M230.19,91h3.5M231.94,89.25v3.5M230.55,91.06h3.5M232.3,89.31v3.5M230.92,91.12h3.5M232.67,89.37v3.5M231.29,91.18h3.5M233.04,89.43v3.5M231.66,91.23h3.5M233.41,89.48v3.5M232.03,91.29h3.5M233.78,89.54v3.5M232.4,91.35h3.5M234.15,89.6v3.5M232.77,91.41h3.5M234.52,89.66v3.5M233.14,91.48h3.5M234.89,89.73v3.5M233.51,91.54h3.5M235.26,89.79v3.5M233.88,91.6h3.5M235.63,89.85v3.5M234.25,91.66h3.5M236,89.91v3.5M234.61,91.73h3.5M236.36,89.98v3.5M234.98,91.79h3.5M236.73,90.04v3.5M235.35,91.86h3.5M237.1,90.11v3.5M235.72,91.93h3.5M237.47,90.18v3.5M236.09,91.99h3.5M237.84,90.24v3.5M236.46,92.06h3.5M238.21,90.31v3.5M236.83,92.13h3.5M238.58,90.38v3.5M237.2,92.2h3.5M238.95,90.45v3.5M237.57,92.27h3.5M239.32,90.52v3.5M237.94,92.34h3.5M239.69,90.59v3.5M238.31,92.41h3.5M240.06,90.66v3.5M238.67,92.48h3.5M240.42,90.73v3.5M239.04,92.56h3.5M240.79,90.81v3.5M239.41,92.63h3.5M241.16,90.88v3.5M239.78,92.71h3.5M241.53,90.96v3.5M240.15,92.79h3.5M241.9,91.04v3.5M240.52,92.87h3.5M242.27,91.12v3.5M240.89,92.96h3.5M242.64,91.21v3.5M241.26,93.04h3.5M243.01,91.29v3.5M241.63,93.13h3.5M243.38,91.38v3.5M242,93.22h3.5M243.75,91.47v3.5M242.37,93.3h3.5M244.12,91.55v3.5M242.73,93.4h3.5M244.48,91.65v3.5M243.1,93.49h3.5M244.85,91.74v3.5M243.47,93.58h3.5M245.22,91.83v3.5M243.84,93.68h3.5M245.59,91.93v3.5M244.21,93.77h3.5M245.96,92.02v3.5M244.58,93.87h3.5M246.33,92.12v3.5M244.95,93.97h3.5M246.7,92.22v3.5M245.32,94.07h3.5M247.07,92.32v3.5M245.69,94.17h3.5M247.44,92.42v3.5M246.06,94.27h3.5M247.81,92.52v3.5M246.43,94.38h3.5M248.18,92.63v3.5M246.8,94.48h3.5M248.55,92.73v3.5M247.16,94.59h3.5M248.91,92.84v3.5M247.53,94.69h3.5M249.28,92.94v3.5M247.9,94.8h3.5M249.65,93.05v3.5M248.27,94.91h3.5M250.02,93.16v3.5M248.64,95.02h3.5M250.39,93.27v3.5M249.01,95.13h3.5M250.76,93.38v3.5M249.38,95.25h3.5M251.13,93.5v3.5M249.75,95.36h3.5M251.5,93.61v3.5M250.12,95.48h3.5M251.87,93.73v3.5M250.49,95.61h3.5M252.24,93.86v3.5M250.86,95.73h3.5M252.61,93.98v3.5M251.22,95.86h3.5M252.97,94.11v3.5M251.59,95.99h3.5M253.34,94.24v3.5M251.96,96.13h3.5M253.71,94.38v3.5M252.33,96.26h3.5M254.08,94.51v3.5M252.7,96.4h3.5M254.45,94.65v3.5M253.07,96.53h3.5M254.82,94.78v3.5M253.44,96.67h3.5M255.19,94.92v3.5M253.81,96.81h3.5M255.56,95.06v3.5M254.18,96.96h3.5M255.93,95.21v3.5M254.55,97.1h3.5M256.3,95.35v3.5M254.92,97.25h3.5M256.67,95.5v3.5M255.28,97.4h3.5M257.03,95.65v3.5M255.65,97.55h3.5M257.4,95.8v3.5M256.02,97.71h3.5M257.77,95.96v3.5M256.39,97.87h3.5M258.14,96.12v3.5M256.76,98.03h3.5M258.51,96.28v3.5M257.13,98.19h3.5M258.88,96.44v3.5M257.5,98.35h3.5M259.25,96.6v3.5M257.87,98.52h3.5M259.62,96.77v3.5M258.24,98.69h3.5M259.99,96.94v3.5M258.61,98.87h3.5M260.36,97.12v3.5M258.98,99.05h3.5M260.73,97.3v3.5M259.34,99.23h3.5M261.09,97.48v3.5M259.71,99.41h3.5M261.46,97.66v3.5M260.08,99.6h3.5M261.83,97.85v3.5M260.45,99.79h3.5M262.2,98.04v3.5M260.82,99.98h3.5M262.57,98.23v3.5M261.19,100.17h3.5M262.94,98.42v3.5M261.56,100.37h3.5M263.31,98.62v3.5M261.93,100.58h3.5M263.68,98.83v3.5M262.3,100.78h3.5M264.05,99.03v3.5M262.67,100.99h3.5M264.42,99.24v3.5M263.04,101.2h3.5M264.79,99.45v3.5M263.41,101.42h3.5M265.16,99.67v3.5M263.77,101.63h3.5M265.52,99.88v3.5M264.14,101.85h3.5M265.89,100.1v3.5M264.51,102.08h3.5M266.26,100.33v3.5M264.88,102.31h3.5M266.63,100.56v3.5M265.25,102.54h3.5M267,100.79v3.5M265.62,102.77h3.5M267.37,101.02v3.5M265.99,103.01h3.5M267.74,101.26v3.5M266.36,103.26h3.5M268.11,101.51v3.5M266.73,103.51h3.5M268.48,101.76v3.5M267.1,103.77h3.5M268.85,102.02v3.5M267.47,104.03h3.5M269.22,102.28v3.5M267.83,104.29h3.5M269.58,102.54v3.5M268.2,104.57h3.5M269.95,102.82v3.5M268.57,104.84h3.5M270.32,103.09v3.5M268.94,105.12h3.5M270.69,103.37v3.5M269.31,105.41h3.5M271.06,103.66v3.5M269.68,105.7h3.5M271.43,103.95v3.5M270.05,105.99h3.5M271.8,104.24v3.5M270.42,106.3h3.5M272.17,104.55v3.5M270.79,106.61h3.5M272.54,104.86v3.5M271.16,106.94h3.5M272.91,105.19v3.5M271.53,107.28h3.5M273.28,105.53v3.5M271.89,107.64h3.5M273.64,105.89v3.5M272.26,108.01h3.5M274.01,106.26v3.5M272.63,108.39h3.5M274.38,106.64v3.5M273,108.79h3.5M274.75,107.04v3.5M273.37,109.2h3.5M275.12,107.45v3.5M273.74,109.63h3.5M275.49,107.88v3.5M274.11,110.07h3.5M275.86,108.32v3.5M274.48,110.52h3.5M276.23,108.77v3.5M274.85,110.99h3.5M276.6,109.24v3.5M275.22,111.47h3.5M276.97,109.72v3.5M275.59,111.97h3.5M277.34,110.22v3.5M275.95,112.49h3.5M277.7,110.74v3.5M276.32,113.03h3.5M278.07,111.28v3.5M276.69,113.58h3.5M278.44,111.83v3.5M277.06,114.15h3.5M278.81,112.4v3.5M277.43,114.74h3.5M279.18,112.99v3.5M277.8,115.36h3.5M279.55,113.61v3.5M278.17,115.99h3.5M279.92,114.24v3.5M278.54,116.64h3.5M280.29,114.89v3.5M278.91,117.32h3.5M280.66,115.57v3.5M279.28,118.02h3.5M281.03,116.27v3.5M279.65,118.74h3.5M281.4,116.99v3.5M280.02,119.5h3.5M281.77,117.75v3.5M280.38,120.31h3.5M282.13,118.56v3.5M280.75,121.18h3.5M282.5,119.43v3.5M281.12,122.12h3.5M282.87,120.37v3.5M281.49,123.15h3.5M283.24,121.4v3.5M281.86,124.28h3.5M283.61,122.53v3.5M282.23,125.51h3.5M283.98,123.76v3.5M282.6,126.9h3.5M284.35,125.15v3.5M282.97,128.77h3.5M284.72,127.02v3.5M283.34,130.96h3.5M285.09,129.21v3.5M283.71,132.4h3.5M285.46,130.65v3.5M284.08,134.3h3.5M285.83,132.55v3.5M284.44,136.3h3.5M286.19,134.55v3.5M284.81,138.2h3.5M286.56,136.45v3.5M285.18,140.4h3.5M286.93,138.65v3.5M285.55,143.4h3.5M287.3,141.65v3.5M285.92,148.5h3.5M287.67,146.75v3.5M286.29,168.2h3.5M288.04,166.45v3.5M286.66,187.6h3.5M288.41,185.85v3.5M287.03,192.7h3.5M288.78,190.95v3.5M287.4,196.4h3.5M289.15,194.65v3.5M287.77,199.5h3.5M289.52,197.75v3.5M288.14,201.07h3.5M289.89,199.32v3.5M288.5,202.57h3.5M290.25,200.82v3.5M288.87,204h3.5M290.62,202.25v3.5M289.24,205.37h3.5M290.99,203.62v3.5M289.61,206.67h3.5M291.36,204.92v3.5M289.98,207.92h3.5M291.73,206.17v3.5M290.35,209.11h3.5M292.1,207.36v3.5M290.72,210.25h3.5M292.47,208.5v3.5M291.09,211.34h3.5M292.84,209.59v3.5M291.46,212.39h3.5M293.21,210.64v3.5M291.83,213.39h3.5M293.58,211.64v3.5M292.2,214.35h3.5M293.95,212.6v3.5M292.56,215.27h3.5M294.31,213.52v3.5M292.93,216.16h3.5M294.68,214.41v3.5M293.3,217.01h3.5M295.05,215.26v3.5M293.67,217.82h3.5M295.42,216.07v3.5M294.04,218.61h3.5M295.79,216.86v3.5M294.41,219.36h3.5M296.16,217.61v3.5M294.78,220.09h3.5M296.53,218.34v3.5M295.15,220.79h3.5M296.9,219.04v3.5M295.52,221.46h3.5M297.27,219.71v3.5M295.89,222.11h3.5M297.64,220.36v3.5M296.26,222.73h3.5M298.01,220.98v3.5M296.63,223.34h3.5M298.38,221.59v3.5M296.99,223.92h3.5M298.74,222.17v3.5M297.36,224.48h3.5M299.11,222.73v3.5M297.73,225.02h3.5M299.48,223.27v3.5M298.1,225.54h3.5M299.85,223.79v3.5M298.47,226.05h3.5M300.22,224.3v3.5M298.84,226.54h3.5M300.59,224.79v3.5M299.21,227.01h3.5M300.96,225.26v3.5M299.58,227.47h3.5M301.33,225.72v3.5M299.95,227.91h3.5M301.7,226.16v3.5M300.32,228.34h3.5M302.07,226.59v3.5M300.69,228.76h3.5M302.44,227.01v3.5M301.05,229.16h3.5M302.8,227.41v3.5M301.42,229.55h3.5M303.17,227.8v3.5M301.79,229.93h3.5M303.54,228.18v3.5M302.16,230.29h3.5M303.91,228.54v3.5M302.53,230.65h3.5M304.28,228.9v3.5M302.9,230.99h3.5M304.65,229.24v3.5M303.27,231.33h3.5M305.02,229.58v3.5M303.64,231.66h3.5M305.39,229.91v3.5M304.01,231.97h3.5M305.76,230.22v3.5M304.38,232.28h3.5M306.13,230.53v3.5M304.75,232.58h3.5M306.5,230.83v3.5M305.11,232.87h3.5M306.86,231.12v3.5M305.48,233.15h3.5M307.23,231.4v3.5M305.85,233.43h3.5M307.6,231.68v3.5M306.22,233.7h3.5M307.97,231.95v3.5M306.59,233.96h3.5M308.34,232.21v3.5M306.96,234.21h3.5M308.71,232.46v3.5M307.33,234.46h3.5M309.08,232.71v3.5M307.7,234.7h3.5M309.45,232.95v3.5M308.07,234.94h3.5M309.82,233.19v3.5M308.44,235.17h3.5M310.19,233.42v3.5M308.81,235.39h3.5M310.56,233.64v3.5M309.17,235.61h3.5M310.92,233.86v3.5M309.54,235.82h3.5M311.29,234.07v3.5M309.91,236.03h3.5M311.66,234.28v3.5M310.28,236.24h3.5M312.03,234.49v3.5M310.65,236.43h3.5M312.4,234.68v3.5M311.02,236.63h3.5M312.77,234.88v3.5M311.39,236.82h3.5M313.14,235.07v3.5M311.76,237h3.5M313.51,235.25v3.5M312.13,237.19h3.5M313.88,235.44v3.5M312.5,237.36h3.5M314.25,235.61v3.5M312.87,237.54h3.5M314.62,235.79v3.5M313.24,237.71h3.5M314.99,235.96v3.5M313.6,237.87h3.5M315.35,236.12v3.5M313.97,238.04h3.5M315.72,236.29v3.5M314.34,238.19h3.5M316.09,236.44v3.5M314.71,238.35h3.5M316.46,236.6v3.5M315.08,238.5h3.5M316.83,236.75v3.5M315.45,238.65h3.5M317.2,236.9v3.5M315.82,238.8h3.5M317.57,237.05v3.5M316.19,238.94h3.5M317.94,237.19v3.5M316.56,239.09h3.5M318.31,237.34v3.5M316.93,239.22h3.5M318.68,237.47v3.5M317.3,239.36h3.5M319.05,237.61v3.5M317.66,239.49h3.5M319.41,237.74v3.5M318.03,239.62h3.5M319.78,237.87v3.5M318.4,239.75h3.5M320.15,238v3.5M318.77,239.88h3.5M320.52,238.13v3.5M319.14,240h3.5M320.89,238.25v3.5M319.51,240.12h3.5M321.26,238.37v3.5M319.88,240.24h3.5M321.63,238.49v3.5M320.25,240.36h3.5M322,238.61v3.5M320.62,240.48h3.5M322.37,238.73v3.5M320.99,240.59h3.5M322.74,238.84v3.5M321.36,240.7h3.5M323.11,238.95v3.5M321.72,240.81h3.5M323.47,239.06v3.5M322.09,240.92h3.5M323.84,239.17v3.5M322.46,241.02h3.5M324.21,239.27v3.5M322.83,241.13h3.5M324.58,239.38v3.5M323.2,241.23h3.5M324.95,239.48v3.5M323.57,241.33h3.5M325.32,239.58v3.5M323.94,241.43h3.5M325.69,239.68v3.5M324.31,241.53h3.5M326.06,239.78v3.5M324.68,241.62h3.5M326.43,239.87v3.5M325.05,241.72h3.5M326.8,239.97v3.5M325.42,241.81h3.5M327.17,240.06v3.5M325.78,241.9h3.5M327.53,240.15v3.5M326.15,242h3.5M327.9,240.25v3.5M326.52,242.08h3.5M328.27,240.33v3.5M326.89,242.17h3.5M328.64,240.42v3.5M327.26,242.26h3.5M329.01,240.51v3.5M327.63,242.34h3.5M329.38,240.59v3.5M328,242.43h3.5M329.75,240.68v3.5M328.37,242.51h3.5M330.12,240.76v3.5M328.74,242.59h3.5M330.49,240.84v3.5M329.11,242.67h3.5M330.86,240.92v3.5M329.48,242.75h3.5M331.23,241v3.5M329.85,242.83h3.5M331.6,241.08v3.5M330.21,242.91h3.5M331.96,241.16v3.5M330.58,242.99h3.5M332.33,241.24v3.5M330.95,243.06h3.5M332.7,241.31v3.5M331.32,243.13h3.5M333.07,241.38v3.5M331.69,243.21h3.5M333.44,241.46v3.5M332.06,243.28h3.5M333.81,241.53v3.5M332.43,243.35h3.5M334.18,241.6v3.5M332.8,243.42h3.5M334.55,241.67v3.5M333.17,243.49h3.5M334.92,241.74v3.5M333.54,243.56h3.5M335.29,241.81v3.5M333.91,243.63h3.5M335.66,241.88v3.5M334.27,243.7h3.5M336.02,241.95v3.5M334.64,243.76h3.5M336.39,242.01v3.5M335.01,243.83h3.5M336.76,242.08v3.5M335.38,243.89h3.5M337.13,242.14v3.5M335.75,243.96h3.5M337.5,242.21v3.5M336.12,244.02h3.5M337.87,242.27v3.5M336.49,244.08h3.5M338.24,242.33v3.5M336.86,244.14h3.5M338.61,242.39v3.5M337.23,244.2h3.5M338.98,242.45v3.5M337.6,244.26h3.5M339.35,242.51v3.5M337.97,244.32h3.5M339.72,242.57v3.5M338.33,244.38h3.5M340.08,242.63v3.5M338.7,244.44h3.5M340.45,242.69v3.5M339.07,244.5h3.5M340.82,242.75v3.5M339.44,244.55h3.5M341.19,242.8v3.5M339.81,244.61h3.5M341.56,242.86v3.5M340.18,244.67h3.5M341.93,242.92v3.5M340.55,244.72h3.5M342.3,242.97v3.5M340.92,244.77h3.5M342.67,243.02v3.5M341.29,244.83h3.5M343.04,243.08v3.5M341.66,244.88h3.5M343.41,243.13v3.5M342.03,244.93h3.5M343.78,243.18v3.5M342.39,244.99h3.5M344.14,243.24v3.5M342.76,245.04h3.5M344.51,243.29v3.5M343.13,245.09h3.5M344.88,243.34v3.5M343.5,245.14h3.5M345.25,243.39v3.5M343.87,245.19h3.5M345.62,243.44v3.5M344.24,245.24h3.5M345.99,243.49v3.5M344.61,245.28h3.5M346.36,243.53v3.5M344.98,245.33h3.5M346.73,243.58v3.5M345.35,245.38h3.5M347.1,243.63v3.5M345.72,245.43h3.5M347.47,243.68v3.5M346.09,245.47h3.5M347.84,243.72v3.5M346.46,245.52h3.5M348.21,243.77v3.5M346.82,245.57h3.5M348.57,243.82v3.5M347.19,245.61h3.5M348.94,243.86v3.5M347.56,245.66h3.5M349.31,243.91v3.5M347.93,245.7h3.5M349.68,243.95v3.5M348.3,245.74h3.5M350.05,243.99v3.5M348.67,245.79h3.5M350.42,244.04v3.5M349.04,245.83h3.5M350.79,244.08v3.5M349.41,245.87h3.5M351.16,244.12v3.5M349.78,245.91h3.5M351.53,244.16v3.5M350.15,245.95h3.5M351.9,244.2v3.5M350.52,246h3.5M352.27,244.25v3.5M350.88,246.04h3.5M352.63,244.29v3.5M351.25,246.08h3.5M353,244.33v3.5M351.62,246.12h3.5M353.37,244.37v3.5M351.99,246.16h3.5M353.74,244.41v3.5M352.36,246.19h3.5M354.11,244.44v3.5M352.73,246.23h3.5M354.48,244.48v3.5M353.1,246.27h3.5M354.85,244.52v3.5M353.47,246.31h3.5M355.22,244.56v3.5M353.84,246.35h3.5M355.59,244.6v3.5M354.21,246.38h3.5M355.96,244.63v3.5M354.58,246.42h3.5M356.33,244.67v3.5M354.94,246.46h3.5M356.69,244.71v3.5M355.31,246.49h3.5M357.06,244.74v3.5M355.68,246.53h3.5M357.43,244.78v3.5M356.05,246.56h3.5M357.8,244.81v3.5M356.42,246.6h3.5M358.17,244.85v3.5M356.79,246.63h3.5M358.54,244.88v3.5M357.16,246.67h3.5M358.91,244.92v3.5M357.53,246.7h3.5M359.28,244.95v3.5M357.9,246.73h3.5M359.65,244.98v3.5M358.27,246.77h3.5M360.02,245.02v3.5M358.64,246.8h3.5M360.39,245.05v3.5M359,246.83h3.5M360.75,245.08v3.5M359.37,246.86h3.5M361.12,245.11v3.5M359.74,246.9h3.5M361.49,245.15v3.5M360.11,246.93h3.5M361.86,245.18v3.5M360.48,246.96h3.5M362.23,245.21v3.5M360.85,246.99h3.5M362.6,245.24v3.5M361.22,247.02h3.5M362.97,245.27v3.5M361.59,247.05h3.5M363.34,245.3v3.5M361.96,247.08h3.5M363.71,245.33v3.5M362.33,247.11h3.5M364.08,245.36v3.5M362.7,247.14h3.5M364.45,245.39v3.5M363.07,247.17h3.5M364.82,245.42v3.5M363.43,247.2h3.5M365.18,245.45v3.5M363.8,247.22h3.5M365.55,245.47v3.5M364.17,247.25h3.5M365.92,245.5v3.5M364.54,247.28h3.5M366.29,245.53v3.5M364.91,247.31h3.5M366.66,245.56v3.5M365.28,247.33h3.5M367.03,245.58v3.5M365.65,247.36h3.5M367.4,245.61v3.5M366.02,247.39h3.5M367.77,245.64v3.5M366.39,247.41h3.5M368.14,245.66v3.5M366.76,247.44h3.5M368.51,245.69v3.5M367.13,247.47h3.5M368.88,245.72v3.5M367.49,247.49h3.5M369.24,245.74v3.5M367.86,247.52h3.5M369.61,245.77v3.5M368.23,247.54h3.5M369.98,245.79v3.5M368.6,247.57h3.5M370.35,245.82v3.5M368.97,247.59h3.5M370.72,245.84v3.5M369.34,247.62h3.5M371.09,245.87v3.5M369.71,247.64h3.5M371.46,245.89v3.5M370.08,247.66h3.5M371.83,245.91v3.5M370.45,247.69h3.5M372.2,245.94v3.5M370.82,247.71h3.5M372.57,245.96v3.5M371.19,247.73h3.5M372.94,245.98v3.5M371.55,247.76h3.5M373.3,246.01v3.5M371.92,247.78h3.5M373.67,246.03v3.5M372.29,247.8h3.5M374.04,246.05v3.5M372.66,247.82h3.5M374.41,246.07v3.5M373.03,247.84h3.5M374.78,246.09v3.5M373.4,247.87h3.5M375.15,246.12v3.5M373.77,247.89h3.5M375.52,246.14v3.5M374.14,247.91h3.5M375.89,246.16v3.5M374.51,247.93h3.5M376.26,246.18v3.5M374.88,247.95h3.5M376.63,246.2v3.5M375.25,247.97h3.5M377,246.22v3.5M375.61,247.99h3.5M377.36,246.24v3.5M375.98,248.01h3.5M377.73,246.26v3.5M376.35,248.03h3.5M378.1,246.28v3.5M376.72,248.05h3.5M378.47,246.3v3.5M377.09,248.07h3.5M378.84,246.32v3.5M377.46,248.09h3.5M379.21,246.34v3.5M377.83,248.11h3.5M379.58,246.36v3.5M378.2,248.12h3.5M379.95,246.37v3.5M378.57,248.14h3.5M380.32,246.39v3.5M378.94,248.16h3.5M380.69,246.41v3.5M379.31,248.18h3.5M381.06,246.43v3.5M379.68,248.2h3.5M381.43,246.45v3.5M380.04,248.21h3.5M381.79,246.46v3.5M380.41,248.23h3.5M382.16,246.48v3.5M380.78,248.25h3.5M382.53,246.5v3.5M381.15,248.27h3.5M382.9,246.52v3.5M381.52,248.28h3.5M383.27,246.53v3.5M381.89,248.3h3.5M383.64,246.55v3.5M382.26,248.32h3.5M384.01,246.57v3.5M382.63,248.33h3.5M384.38,246.58v3.5M383,248.35h3.5M384.75,246.6v3.5M383.37,248.36h3.5M385.12,246.61v3.5M383.74,248.38h3.5M385.49,246.63v3.5M384.1,248.39h3.5M385.85,246.64v3.5M384.47,248.41h3.5M386.22,246.66v3.5M384.84,248.43h3.5M386.59,246.68v3.5M385.21,248.44h3.5M386.96,246.69v3.5M385.58,248.46h3.5M387.33,246.71v3.5M385.95,248.47h3.5M387.7,246.72v3.5"/>
<path d="M76,23.4H107" stroke-opacity="0.85"/><path d="M91.5,21.5v3.8M89.6,23.4h3.8"/>
</g>
<g fill="none" stroke="#440154" stroke-width="1">
<clipPath id="c"><rect x="52.5" y="13.45" width="338.2" height="239.95000000000002"/></clipPath>
<path clip-path="url(#c)" d="M55.5,249.49 L55.87,249.49 L56.24,249.49 L56.61,249.49 L56.98,249.49 L57.35,249.49 L57.71,249.49 L58.08,249.49 L58.45,249.49 L58.82,249.49 L59.19,249.49 L59.56,249.49 L59.93,249.49 L60.3,249.49 L60.67,249.49 L61.04,249.49 L61.41,249.49 L61.77,249.49 L62.14,249.49 L62.51,249.49 L62.88,249.49 L63.25,249.49 L63.62,249.49 L63.99,249.49 L64.36,249.49 L64.73,249.48 L65.1,249.48 L65.47,249.48 L65.84,249.48 L66.2,249.48 L66.57,249.48 L66.94,249.48 L67.31,249.48 L67.68,249.48 L68.05,249.48 L68.42,249.48 L68.79,249.48 L69.16,249.48 L69.53,249.48 L69.9,249.48 L70.26,249.48 L70.63,249.48 L71,249.48 L71.37,249.48 L71.74,249.48 L72.11,249.48 L72.48,249.48 L72.85,249.48 L73.22,249.48 L73.59,249.48 L73.96,249.48 L74.32,249.48 L74.69,249.48 L75.06,249.48 L75.43,249.47 L75.8,249.47 L76.17,249.47 L76.54,249.47 L76.91,249.47 L77.28,249.47 L77.65,249.47 L78.02,249.47 L78.38,249.47 L78.75,249.47 L79.12,249.47 L79.49,249.47 L79.86,249.47 L80.23,249.47 L80.6,249.47 L80.97,249.47 L81.34,249.47 L81.71,249.47 L82.08,249.47 L82.45,249.46 L82.81,249.46 L83.18,249.46 L83.55,249.46 L83.92,249.46 L84.29,249.46 L84.66,249.46 L85.03,249.46 L85.4,249.46 L85.77,249.46 L86.14,249.46 L86.51,249.46 L86.87,249.46 L87.24,249.46 L87.61,249.45 L87.98,249.45 L88.35,249.45 L88.72,249.45 L89.09,249.45 L89.46,249.45 L89.83,249.45 L90.2,249.45 L90.57,249.45 L90.93,249.45 L91.3,249.45 L91.67,249.45 L92.04,249.44 L92.41,249.44 L92.78,249.44 L93.15,249.44 L93.52,249.44 L93.89,249.44 L94.26,249.44 L94.63,249.44 L94.99,249.44 L95.36,249.43 L95.73,249.43 L96.1,249.43 L96.47,249.43 L96.84,249.43 L97.21,249.43 L97.58,249.43 L97.95,249.43 L98.32,249.42 L98.69,249.42 L99.06,249.42 L99.42,249.42 L99.79,249.42 L100.16,249.42 L100.53,249.42 L100.9,249.42 L101.27,249.41 L101.64,249.41 L102.01,249.41 L102.38,249.41 L102.75,249.41 L103.12,249.41 L103.48,249.4 L103.85,249.4 L104.22,249.4 L104.59,249.4 L104.96,249.4 L105.33,249.4 L105.7,249.39 L106.07,249.39 L106.44,249.39 L106.81,249.39 L107.18,249.39 L107.54,249.38 L107.91,249.38 L108.28,249.38 L108.65,249.38 L109.02,249.38 L109.39,249.37 L109.76,249.37 L110.13,249.37 L110.5,249.37 L110.87,249.37 L111.24,249.36 L111.6,249.36 L111.97,249.36 L112.34,249.36 L112.71,249.35 L113.08,249.35 L113.45,249.35 L113.82,249.35 L114.19,249.34 L114.56,249.34 L114.93,249.34 L115.3,249.34 L115.67,249.33 L116.03,249.33 L116.4,249.33 L116.77,249.32 L117.14,249.32 L117.51,249.32 L117.88,249.31 L118.25,249.31 L118.62,249.31 L118.99,249.31 L119.36,249.3 L119.73,249.3 L120.09,249.3 L120.46,249.29 L120.83,249.29 L121.2,249.28 L121.57,249.28 L121.94,249.28 L122.31,249.27 L122.68,249.27 L123.05,249.27 L123.42,249.26 L123.79,249.26 L124.15,249.25 L124.52,249.25 L124.89,249.25 L125.26,249.24 L125.63,249.24 L126,249.23 L126.37,249.23 L126.74,249.22 L127.11,249.22 L127.48,249.21 L127.85,249.21 L128.21,249.2 L128.58,249.2 L128.95,249.19 L129.32,249.19 L129.69,249.18 L130.06,249.18 L130.43,249.17 L130.8,249.17 L131.17,249.16 L131.54,249.16 L131.91,249.15 L132.28,249.15 L132.64,249.14 L133.01,249.13 L133.38,249.13 L133.75,249.12 L134.12,249.12 L134.49,249.11 L134.86,249.1 L135.23,249.1 L135.6,249.09 L135.97,249.08 L136.34,249.08 L136.7,249.07 L137.07,249.06 L137.44,249.06 L137.81,249.05 L138.18,249.04 L138.55,249.03 L138.92,249.03 L139.29,249.02 L139.66,249.01 L140.03,249 L140.4,248.99 L140.76,248.99 L141.13,248.98 L141.5,248.97 L141.87,248.96 L142.24,248.95 L142.61,248.94 L142.98,248.93 L143.35,248.92 L143.72,248.91 L144.09,248.91 L144.46,248.9 L144.82,248.89 L145.19,248.88 L145.56,248.87 L145.93,248.86 L146.3,248.85 L146.67,248.84 L147.04,248.82 L147.41,248.81 L147.78,248.8 L148.15,248.79 L148.52,248.78 L148.89,248.77 L149.25,248.76 L149.62,248.75 L149.99,248.73 L150.36,248.72 L150.73,248.71 L151.1,248.7 L151.47,248.68 L151.84,248.67 L152.21,248.66 L152.58,248.64 L152.95,248.63 L153.31,248.62 L153.68,248.6 L154.05,248.59 L154.42,248.57 L154.79,248.56 L155.16,248.54 L155.53,248.53 L155.9,248.51 L156.27,248.5 L156.64,248.48 L157.01,248.47 L157.37,248.45 L157.74,248.43 L158.11,248.42 L158.48,248.4 L158.85,248.38 L159.22,248.37 L159.59,248.35 L159.96,248.33 L160.33,248.31 L160.7,248.29 L161.07,248.27 L161.43,248.26 L161.8,248.24 L162.17,248.22 L162.54,248.2 L162.91,248.18 L163.28,248.16 L163.65,248.13 L164.02,248.11 L164.39,248.09 L164.76,248.07 L165.13,248.05 L165.5,248.03 L165.86,248 L166.23,247.98 L166.6,247.96 L166.97,247.93 L167.34,247.91 L167.71,247.89 L168.08,247.86 L168.45,247.84 L168.82,247.81 L169.19,247.78 L169.56,247.76 L169.92,247.73 L170.29,247.7 L170.66,247.68 L171.03,247.65 L171.4,247.62 L171.77,247.59 L172.14,247.56 L172.51,247.54 L172.88,247.51 L173.25,247.48 L173.62,247.45 L173.98,247.41 L174.35,247.38 L174.72,247.35 L175.09,247.32 L175.46,247.29 L175.83,247.25 L176.2,247.22 L176.57,247.19 L176.94,247.15 L177.31,247.12 L177.68,247.08 L178.04,247.04 L178.41,247.01 L178.78,246.97 L179.15,246.93 L179.52,246.89 L179.89,246.86 L180.26,246.82 L180.63,246.78 L181,246.74 L181.37,246.7 L181.74,246.66 L182.11,246.61 L182.47,246.57 L182.84,246.53 L183.21,246.48 L183.58,246.44 L183.95,246.39 L184.32,246.35 L184.69,246.3 L185.06,246.26 L185.43,246.21 L185.8,246.16 L186.17,246.11 L186.53,246.06 L186.9,246.01 L187.27,245.96 L187.64,245.91 L188.01,245.86 L188.38,245.81 L188.75,245.75 L189.12,245.7 L189.49,245.64 L189.86,245.59 L190.23,245.53 L190.59,245.48 L190.96,245.42 L191.33,245.36 L191.7,245.3 L192.07,245.24 L192.44,245.18 L192.81,245.12 L193.18,245.05 L193.55,244.99 L193.92,244.93 L194.29,244.86 L194.65,244.8 L195.02,244.73 L195.39,244.66 L195.76,244.59 L196.13,244.52 L196.5,244.45 L196.87,244.38 L197.24,244.31 L197.61,244.24 L197.98,244.16 L198.35,244.09 L198.72,244.01 L199.08,243.93 L199.45,243.85 L199.82,243.78 L200.19,243.7 L200.56,243.61 L200.93,243.53 L201.3,243.45 L201.67,243.36 L202.04,243.28 L202.41,243.19 L202.78,243.1 L203.14,243.02 L203.51,242.93 L203.88,242.83 L204.25,242.74 L204.62,242.65 L204.99,242.55 L205.36,242.46 L205.73,242.36 L206.1,242.26 L206.47,242.16 L206.84,242.06 L207.2,241.96 L207.57,241.85 L207.94,241.75 L208.31,241.64 L208.68,241.54 L209.05,241.43 L209.42,241.32 L209.79,241.2 L210.16,241.09 L210.53,240.98 L210.9,240.86 L211.26,240.74 L211.63,240.62 L212,240.5 L212.37,240.38 L212.74,240.25 L213.11,240.13 L213.48,240 L213.85,239.87 L214.22,239.74 L214.59,239.61 L214.96,239.48 L215.33,239.34 L215.69,239.2 L216.06,239.06 L216.43,238.92 L216.8,238.78 L217.17,238.64 L217.54,238.49 L217.91,238.34 L218.28,238.19 L218.65,238.04 L219.02,237.88 L219.39,237.73 L219.75,237.57 L220.12,237.41 L220.49,237.25 L220.86,237.08 L221.23,236.92 L221.6,236.75 L221.97,236.57 L222.34,236.4 L222.71,236.23 L223.08,236.05 L223.45,235.87 L223.81,235.68 L224.18,235.5 L224.55,235.31 L224.92,235.12 L225.29,234.93 L225.66,234.73 L226.03,234.54 L226.4,234.34 L226.77,234.13 L227.14,233.93 L227.51,233.72 L227.87,233.51 L228.24,233.29 L228.61,233.07 L228.98,232.85 L229.35,232.63 L229.72,232.4 L230.09,232.17 L230.46,231.94 L230.83,231.7 L231.2,231.46 L231.57,231.22 L231.94,230.97 L232.3,230.72 L232.67,230.47 L233.04,230.21 L233.41,229.95 L233.78,229.69 L234.15,229.42 L234.52,229.15 L234.89,228.87 L235.26,228.59 L235.63,228.31 L236,228.02 L236.36,227.72 L236.73,227.43 L237.1,227.12 L237.47,226.82 L237.84,226.51 L238.21,226.19 L238.58,225.87 L238.95,225.54 L239.32,225.21 L239.69,224.87 L240.06,224.53 L240.42,224.18 L240.79,223.83 L241.16,223.47 L241.53,223.11 L241.9,222.74 L242.27,222.36 L242.64,221.98 L243.01,221.59 L243.38,221.19 L243.75,220.79 L244.12,220.38 L244.48,219.96 L244.85,219.53 L245.22,219.1 L245.59,218.66 L245.96,218.21 L246.33,217.76 L246.7,217.29 L247.07,216.82 L247.44,216.34 L247.81,215.85 L248.18,215.35 L248.55,214.84 L248.91,214.32 L249.28,213.79 L249.65,213.25 L250.02,212.69 L250.39,212.13 L250.76,211.56 L251.13,210.97 L251.5,210.37 L251.87,209.76 L252.24,209.14 L252.61,208.5 L252.97,207.85 L253.34,207.18 L253.71,206.5 L254.08,205.81 L254.45,205.1 L254.82,204.37 L255.19,203.62 L255.56,202.86 L255.93,202.08 L256.3,201.28 L256.67,200.46 L257.03,199.63 L257.4,198.77 L257.77,197.89 L258.14,196.98 L258.51,196.05 L258.88,195.1 L259.25,194.13 L259.62,193.12 L259.99,192.09 L260.36,191.03 L260.73,189.95 L261.09,188.83 L261.46,187.68 L261.83,186.49 L262.2,185.28 L262.57,184.02 L262.94,182.73 L263.31,181.4 L263.68,180.02 L264.05,178.61 L264.42,177.15 L264.79,175.64 L265.16,174.09 L265.52,172.48 L265.89,170.82 L266.26,169.1 L266.63,167.33 L267,165.49 L267.37,163.59 L267.74,161.62 L268.11,159.59 L268.48,157.47 L268.85,155.28 L269.22,153.01 L269.58,150.65 L269.95,148.2 L270.32,145.66 L270.69,143.02 L271.06,140.27 L271.43,137.41 L271.8,134.44 L272.17,131.34 L272.54,128.11 L272.91,124.72 L273.28,121.19 L273.64,117.5 L274.01,113.65 L274.38,109.63 L274.75,105.43 L275.12,101.04 L275.49,96.44 L275.86,91.64 L276.23,86.61 L276.6,81.34 L276.97,75.87 L277.34,70.18 L277.7,65.7 L278.07,60.1 L278.44,53.7 L278.81,47.5 L279.18,40.9 L279.55,33.2 L279.92,25.1 L280.29,16.6 L280.66,7.6M295.79,7.6 L296.16,16.6 L296.53,25.1 L296.9,32.8 L297.27,40.1 L297.64,46.8 L298.01,53.7 L298.38,60.1 L298.74,65.7 L299.11,74.35 L299.48,79.75 L299.85,84.79 L300.22,89.41 L300.59,93.84 L300.96,98.1 L301.33,102.19 L301.7,106.13 L302.07,109.91 L302.44,113.55 L302.8,117.06 L303.17,120.43 L303.54,123.67 L303.91,126.8 L304.28,129.82 L304.65,132.83 L305.02,135.73 L305.39,138.52 L305.76,141.2 L306.13,143.79 L306.5,146.29 L306.86,148.69 L307.23,151.02 L307.6,153.26 L307.97,155.42 L308.34,157.51 L308.71,159.54 L309.08,161.49 L309.45,163.38 L309.82,165.22 L310.19,166.99 L310.56,168.71 L310.92,170.37 L311.29,171.99 L311.66,173.56 L312.03,175.08 L312.4,176.55 L312.77,177.99 L313.14,179.38 L313.51,180.73 L313.88,182.05 L314.25,183.33 L314.62,184.57 L314.99,185.78 L315.35,186.96 L315.72,188.11 L316.09,189.23 L316.46,190.31 L316.83,191.38 L317.2,192.41 L317.57,193.42 L317.94,194.4 L318.31,195.36 L318.68,196.3 L319.05,197.21 L319.41,198.11 L319.78,198.98 L320.15,199.83 L320.52,200.66 L320.89,201.48 L321.26,202.27 L321.63,203.05 L322,203.81 L322.37,204.55 L322.74,205.28 L323.11,205.99 L323.47,206.69 L323.84,207.37 L324.21,208.04 L324.58,208.69 L324.95,209.33 L325.32,209.96 L325.69,210.58 L326.06,211.18 L326.43,211.77 L326.8,212.35 L327.17,212.92 L327.53,213.47 L327.9,214.02 L328.27,214.55 L328.64,215.08 L329.01,215.59 L329.38,216.1 L329.75,216.6 L330.12,217.08 L330.49,217.56 L330.86,218.03 L331.23,218.49 L331.6,218.95 L331.96,219.39 L332.33,219.83 L332.7,220.26 L333.07,220.68 L333.44,221.09 L333.81,221.5 L334.18,221.9 L334.55,222.29 L334.92,222.68 L335.29,223.06 L335.66,223.44 L336.02,223.8 L336.39,224.16 L336.76,224.52 L337.13,224.87 L337.5,225.21 L337.87,225.55 L338.24,225.89 L338.61,226.21 L338.98,226.54 L339.35,226.85 L339.72,227.17 L340.08,227.47 L340.45,227.78 L340.82,228.07 L341.19,228.37 L341.56,228.65 L341.93,228.94 L342.3,229.22 L342.67,229.49 L343.04,229.77 L343.41,230.03 L343.78,230.3 L344.14,230.55 L344.51,230.81 L344.88,231.06 L345.25,231.31 L345.62,231.55 L345.99,231.79 L346.36,232.03 L346.73,232.26 L347.1,232.49 L347.47,232.72 L347.84,232.94 L348.21,233.16 L348.57,233.38 L348.94,233.59 L349.31,233.8 L349.68,234.01 L350.05,234.21 L350.42,234.42 L350.79,234.61 L351.16,234.81 L351.53,235 L351.9,235.19 L352.27,235.38 L352.63,235.57 L353,235.75 L353.37,235.93 L353.74,236.11 L354.11,236.28 L354.48,236.45 L354.85,236.62 L355.22,236.79 L355.59,236.96 L355.96,237.12 L356.33,237.28 L356.69,237.44 L357.06,237.59 L357.43,237.75 L357.8,237.9 L358.17,238.05 L358.54,238.2 L358.91,238.35 L359.28,238.49 L359.65,238.63 L360.02,238.77 L360.39,238.91 L360.75,239.05 L361.12,239.18 L361.49,239.31 L361.86,239.44 L362.23,239.57 L362.6,239.7 L362.97,239.83 L363.34,239.95 L363.71,240.07 L364.08,240.19 L364.45,240.31 L364.82,240.43 L365.18,240.55 L365.55,240.66 L365.92,240.77 L366.29,240.88 L366.66,240.99 L367.03,241.1 L367.4,241.21 L367.77,241.31 L368.14,241.42 L368.51,241.52 L368.88,241.62 L369.24,241.72 L369.61,241.82 L369.98,241.92 L370.35,242.02 L370.72,242.11 L371.09,242.2 L371.46,242.3 L371.83,242.39 L372.2,242.48 L372.57,242.57 L372.94,242.65 L373.3,242.74 L373.67,242.83 L374.04,242.91 L374.41,242.99 L374.78,243.08 L375.15,243.16 L375.52,243.24 L375.89,243.32 L376.26,243.39 L376.63,243.47 L377,243.55 L377.36,243.62 L377.73,243.7 L378.1,243.77 L378.47,243.84 L378.84,243.91 L379.21,243.98 L379.58,244.05 L379.95,244.12 L380.32,244.19 L380.69,244.25 L381.06,244.32 L381.43,244.39 L381.79,244.45 L382.16,244.51 L382.53,244.58 L382.9,244.64 L383.27,244.7 L383.64,244.76 L384.01,244.82 L384.38,244.88 L384.75,244.93 L385.12,244.99 L385.49,245.05 L385.85,245.1 L386.22,245.16 L386.59,245.21 L386.96,245.27 L387.33,245.32 L387.7,245.37" stroke-opacity="0.6"/>
<path d="M55.5,249.49 L55.87,249.49 L56.24,249.49 L56.61,249.49 L56.98,249.49 L57.35,249.49 L57.71,249.49 L58.08,249.49 L58.45,249.49 L58.82,249.49 L59.19,249.49 L59.56,249.49 L59.93,249.49 L60.3,249.49 L60.67,249.49 L61.04,249.49 L61.41,249.49 L61.77,249.49 L62.14,249.49 L62.51,249.49 L62.88,249.49 L63.25,249.49 L63.62,249.49 L63.99,249.49 L64.36,249.49 L64.73,249.48 L65.1,249.48 L65.47,249.48 L65.84,249.48 L66.2,249.48 L66.57,249.48 L66.94,249.48 L67.31,249.48 L67.68,249.48 L68.05,249.48 L68.42,249.48 L68.79,249.48 L69.16,249.48 L69.53,249.48 L69.9,249.48 L70.26,249.48 L70.63,249.48 L71,249.48 L71.37,249.48 L71.74,249.48 L72.11,249.48 L72.48,249.48 L72.85,249.48 L73.22,249.48 L73.59,249.48 L73.96,249.48 L74.32,249.48 L74.69,249.48 L75.06,249.48 L75.43,249.47 L75.8,249.47 L76.17,249.47 L76.54,249.47 L76.91,249.47 L77.28,249.47 L77.65,249.47 L78.02,249.47 L78.38,249.47 L78.75,249.47 L79.12,249.47 L79.49,249.47 L79.86,249.47 L80.23,249.47 L80.6,249.47 L80.97,249.47 L81.34,249.47 L81.71,249.47 L82.08,249.47 L82.45,249.46 L82.81,249.46 L83.18,249.46 L83.55,249.46 L83.92,249.46 L84.29,249.46 L84.66,249.46 L85.03,249.46 L85.4,249.46 L85.77,249.46 L86.14,249.46 L86.51,249.46 L86.87,249.46 L87.24,249.46 L87.61,249.45 L87.98,249.45 L88.35,249.45 L88.72,249.45 L89.09,249.45 L89.46,249.45 L89.83,249.45 L90.2,249.45 L90.57,249.45 L90.93,249.45 L91.3,249.45 L91.67,249.45 L92.04,249.44 L92.41,249.44 L92.78,249.44 L93.15,249.44 L93.52,249.44 L93.89,249.44 L94.26,249.44 L94.63,249.44 L94.99,249.44 L95.36,249.43 L95.73,249.43 L96.1,249.43 L96.47,249.43 L96.84,249.43 L97.21,249.43 L97.58,249.43 L97.95,249.43 L98.32,249.42 L98.69,249.42 L99.06,249.42 L99.42,249.42 L99.79,249.42 L100.16,249.42 L100.53,249.42 L100.9,249.42 L101.27,249.41 L101.64,249.41 L102.01,249.41 L102.38,249.41 L102.75,249.41 L103.12,249.41 L103.48,249.4 L103.85,249.4 L104.22,249.4 L104.59,249.4 L104.96,249.4 L105.33,249.4 L105.7,249.39 L106.07,249.39 L106.44,249.39 L106.81,249.39 L107.18,249.39 L107.54,249.38 L107.91,249.38 L108.28,249.38 L108.65,249.38 L109.02,249.38 L109.39,249.37 L109.76,249.37 L110.13,249.37 L110.5,249.37 L110.87,249.37 L111.24,249.36 L111.6,249.36 L111.97,249.36 L112.34,249.36 L112.71,249.35 L113.08,249.35 L113.45,249.35 L113.82,249.35 L114.19,249.34 L114.56,249.34 L114.93,249.34 L115.3,249.34 L115.67,249.33 L116.03,249.33 L116.4,249.33 L116.77,249.32 L117.14,249.32 L117.51,249.32 L117.88,249.31 L118.25,249.31 L118.62,249.31 L118.99,249.31 L119.36,249.3 L119.73,249.3 L120.09,249.3 L120.46,249.29 L120.83,249.29 L121.2,249.28 L121.57,249.28 L121.94,249.28 L122.31,249.27 L122.68,249.27 L123.05,249.27 L123.42,249.26 L123.79,249.26 L124.15,249.25 L124.52,249.25 L124.89,249.25 L125.26,249.24 L125.63,249.24 L126,249.23 L126.37,249.23 L126.74,249.22 L127.11,249.22 L127.48,249.21 L127.85,249.21 L128.21,249.2 L128.58,249.2 L128.95,249.19 L129.32,249.19 L129.69,249.18 L130.06,249.18 L130.43,249.17 L130.8,249.17 L131.17,249.16 L131.54,249.16 L131.91,249.15 L132.28,249.15 L132.64,249.14 L133.01,249.13 L133.38,249.13 L133.75,249.12 L134.12,249.12 L134.49,249.11 L134.86,249.1 L135.23,249.1 L135.6,249.09 L135.97,249.08 L136.34,249.08 L136.7,249.07 L137.07,249.06 L137.44,249.06 L137.81,249.05 L138.18,249.04 L138.55,249.03 L138.92,249.03 L139.29,249.02 L139.66,249.01 L140.03,249 L140.4,248.99 L140.76,248.99 L141.13,248.98 L141.5,248.97 L141.87,248.96 L142.24,248.95 L142.61,248.94 L142.98,248.93 L143.35,248.92 L143.72,248.91 L144.09,248.91 L144.46,248.9 L144.82,248.89 L145.19,248.88 L145.56,248.87 L145.93,248.86 L146.3,248.85 L146.67,248.84 L147.04,248.82 L147.41,248.81 L147.78,248.8 L148.15,248.79 L148.52,248.78 L148.89,248.77 L149.25,248.76 L149.62,248.75 L149.99,248.73 L150.36,248.72 L150.73,248.71 L151.1,248.7 L151.47,248.68 L151.84,248.67 L152.21,248.66 L152.58,248.64 L152.95,248.63 L153.31,248.62 L153.68,248.6 L154.05,248.59 L154.42,248.57 L154.79,248.56 L155.16,248.54 L155.53,248.53 L155.9,248.51 L156.27,248.5 L156.64,248.48 L157.01,248.47 L157.37,248.45 L157.74,248.43 L158.11,248.42 L158.48,248.4 L158.85,248.38 L159.22,248.37 L159.59,248.35 L159.96,248.33 L160.33,248.31 L160.7,248.29 L161.07,248.27 L161.43,248.26 L161.8,248.24 L162.17,248.22 L162.54,248.2 L162.91,248.18 L163.28,248.16 L163.65,248.13 L164.02,248.11 L164.39,248.09 L164.76,248.07 L165.13,248.05 L165.5,248.03 L165.86,248 L166.23,247.98 L166.6,247.96 L166.97,247.93 L167.34,247.91 L167.71,247.89 L168.08,247.86 L168.45,247.84 L168.82,247.81 L169.19,247.78 L169.56,247.76 L169.92,247.73 L170.29,247.7 L170.66,247.68 L171.03,247.65 L171.4,247.62 L171.77,247.59 L172.14,247.56 L172.51,247.54 L172.88,247.51 L173.25,247.48 L173.62,247.45 L173.98,247.41 L174.35,247.38 L174.72,247.35 L175.09,247.32 L175.46,247.29 L175.83,247.25 L176.2,247.22 L176.57,247.19 L176.94,247.15 L177.31,247.12 L177.68,247.08 L178.04,247.04 L178.41,247.01 L178.78,246.97 L179.15,246.93 L179.52,246.89 L179.89,246.86 L180.26,246.82 L180.63,246.78 L181,246.74 L181.37,246.7 L181.74,246.66 L182.11,246.61 L182.47,246.57 L182.84,246.53 L183.21,246.48 L183.58,246.44 L183.95,246.39 L184.32,246.35 L184.69,246.3 L185.06,246.26 L185.43,246.21 L185.8,246.16 L186.17,246.11 L186.53,246.06 L186.9,246.01 L187.27,245.96 L187.64,245.91 L188.01,245.86 L188.38,245.81 L188.75,245.75 L189.12,245.7 L189.49,245.64 L189.86,245.59 L190.23,245.53 L190.59,245.48 L190.96,245.42 L191.33,245.36 L191.7,245.3 L192.07,245.24 L192.44,245.18 L192.81,245.12 L193.18,245.05 L193.55,244.99 L193.92,244.93 L194.29,244.86 L194.65,244.8 L195.02,244.73 L195.39,244.66 L195.76,244.59 L196.13,244.52 L196.5,244.45 L196.87,244.38 L197.24,244.31 L197.61,244.24 L197.98,244.16 L198.35,244.09 L198.72,244.01 L199.08,243.93 L199.45,243.85 L199.82,243.78 L200.19,243.7 L200.56,243.61 L200.93,243.53 L201.3,243.45 L201.67,243.36 L202.04,243.28 L202.41,243.19 L202.78,243.1 L203.14,243.02 L203.51,242.93 L203.88,242.83 L204.25,242.74 L204.62,242.65 L204.99,242.55 L205.36,242.46 L205.73,242.36 L206.1,242.26 L206.47,242.16 L206.84,242.06 L207.2,241.96 L207.57,241.85 L207.94,241.75 L208.31,241.64 L208.68,241.54 L209.05,241.43 L209.42,241.32 L209.79,241.2 L210.16,241.09 L210.53,240.98 L210.9,240.86 L211.26,240.74 L211.63,240.62 L212,240.5 L212.37,240.38 L212.74,240.25 L213.11,240.13 L213.48,240 L213.85,239.87 L214.22,239.74 L214.59,239.61 L214.96,239.48 L215.33,239.34 L215.69,239.2 L216.06,239.06 L216.43,238.92 L216.8,238.78 L217.17,238.64 L217.54,238.49 L217.91,238.34 L218.28,238.19 L218.65,238.04 L219.02,237.88 L219.39,237.73 L219.75,237.57 L220.12,237.41 L220.49,237.25 L220.86,237.08 L221.23,236.92 L221.6,236.75 L221.97,236.57 L222.34,236.4 L222.71,236.23 L223.08,236.05 L223.45,235.87 L223.81,235.68 L224.18,235.5 L224.55,235.31 L224.92,235.12 L225.29,234.93 L225.66,234.73 L226.03,234.54 L226.4,234.34 L226.77,234.13 L227.14,233.93 L227.51,233.72 L227.87,233.51 L228.24,233.29 L228.61,233.07 L228.98,232.85 L229.35,232.63 L229.72,232.4 L230.09,232.17 L230.46,231.94 L230.83,231.7 L231.2,231.46 L231.57,231.22 L231.94,230.97 L232.3,230.72 L232.67,230.47 L233.04,230.21 L233.41,229.95 L233.78,229.69 L234.15,229.42 L234.52,229.15 L234.89,228.87 L235.26,228.59 L235.63,228.31 L236,228.02 L236.36,227.72 L236.73,227.43 L237.1,227.12 L237.47,226.82 L237.84,226.51 L238.21,226.19 L238.58,225.87 L238.95,225.54 L239.32,225.21 L239.69,224.87 L240.06,224.53 L240.42,224.18 L240.79,223.83 L241.16,223.47 L241.53,223.11 L241.9,222.74 L242.27,222.36 L242.64,221.98 L243.01,221.59 L243.38,221.19 L243.75,220.79 L244.12,220.38 L244.48,219.96 L244.85,219.53 L245.22,219.1 L245.59,218.66 L245.96,218.21 L246.33,217.76 L246.7,217.29 L247.07,216.82 L247.44,216.34 L247.81,215.85 L248.18,215.35 L248.55,214.84 L248.91,214.32 L249.28,213.79 L249.65,213.25 L250.02,212.69 L250.39,212.13 L250.76,211.56 L251.13,210.97 L251.5,210.37 L251.87,209.76 L252.24,209.14 L252.61,208.5 L252.97,207.85 L253.34,207.18 L253.71,206.5 L254.08,205.81 L254.45,205.1 L254.82,204.37 L255.19,203.62 L255.56,202.86 L255.93,202.08 L256.3,201.28 L256.67,200.46 L257.03,199.63 L257.4,198.77 L257.77,197.89 L258.14,196.98 L258.51,196.05 L258.88,195.1 L259.25,194.13M317.57,193.42 L317.94,194.4 L318.31,195.36 L318.68,196.3 L319.05,197.21 L319.41,198.11 L319.78,198.98 L320.15,199.83 L320.52,200.66 L320.89,201.48 L321.26,202.27 L321.63,203.05 L322,203.81 L322.37,204.55 L322.74,205.28 L323.11,205.99 L323.47,206.69 L323.84,207.37 L324.21,208.04 L324.58,208.69 L324.95,209.33 L325.32,209.96 L325.69,210.58 L326.06,211.18 L326.43,211.77 L326.8,212.35 L327.17,212.92 L327.53,213.47 L327.9,214.02 L328.27,214.55 L328.64,215.08 L329.01,215.59 L329.38,216.1 L329.75,216.6 L330.12,217.08 L330.49,217.56 L330.86,218.03 L331.23,218.49 L331.6,218.95 L331.96,219.39 L332.33,219.83 L332.7,220.26 L333.07,220.68 L333.44,221.09 L333.81,221.5 L334.18,221.9 L334.55,222.29 L334.92,222.68 L335.29,223.06 L335.66,223.44 L336.02,223.8 L336.39,224.16 L336.76,224.52 L337.13,224.87 L337.5,225.21 L337.87,225.55 L338.24,225.89 L338.61,226.21 L338.98,226.54 L339.35,226.85 L339.72,227.17 L340.08,227.47 L340.45,227.78 L340.82,228.07 L341.19,228.37 L341.56,228.65 L341.93,228.94 L342.3,229.22 L342.67,229.49 L343.04,229.77 L343.41,230.03 L343.78,230.3 L344.14,230.55 L344.51,230.81 L344.88,231.06 L345.25,231.31 L345.62,231.55 L345.99,231.79 L346.36,232.03 L346.73,232.26 L347.1,232.49 L347.47,232.72 L347.84,232.94 L348.21,233.16 L348.57,233.38 L348.94,233.59 L349.31,233.8 L349.68,234.01 L350.05,234.21 L350.42,234.42 L350.79,234.61 L351.16,234.81 L351.53,235 L351.9,235.19 L352.27,235.38 L352.63,235.57 L353,235.75 L353.37,235.93 L353.74,236.11 L354.11,236.28 L354.48,236.45 L354.85,236.62 L355.22,236.79 L355.59,236.96 L355.96,237.12 L356.33,237.28 L356.69,237.44 L357.06,237.59 L357.43,237.75 L357.8,237.9 L358.17,238.05 L358.54,238.2 L358.91,238.35 L359.28,238.49 L359.65,238.63 L360.02,238.77 L360.39,238.91 L360.75,239.05 L361.12,239.18 L361.49,239.31 L361.86,239.44 L362.23,239.57 L362.6,239.7 L362.97,239.83 L363.34,239.95 L363.71,240.07 L364.08,240.19 L364.45,240.31 L364.82,240.43 L365.18,240.55 L365.55,240.66 L365.92,240.77 L366.29,240.88 L366.66,240.99 L367.03,241.1 L367.4,241.21 L367.77,241.31 L368.14,241.42 L368.51,241.52 L368.88,241.62 L369.24,241.72 L369.61,241.82 L369.98,241.92 L370.35,242.02 L370.72,242.11 L371.09,242.2 L371.46,242.3 L371.83,242.39 L372.2,242.48 L372.57,242.57 L372.94,242.65 L373.3,242.74 L373.67,242.83 L374.04,242.91 L374.41,242.99 L374.78,243.08 L375.15,243.16 L375.52,243.24 L375.89,243.32 L376.26,243.39 L376.63,243.47 L377,243.55 L377.36,243.62 L377.73,243.7 L378.1,243.77 L378.47,243.84 L378.84,243.91 L379.21,243.98 L379.58,244.05 L379.95,244.12 L380.32,244.19 L380.69,244.25 L381.06,244.32 L381.43,244.39 L381.79,244.45 L382.16,244.51 L382.53,244.58 L382.9,244.64 L383.27,244.7 L383.64,244.76 L384.01,244.82 L384.38,244.88 L384.75,244.93 L385.12,244.99 L385.49,245.05 L385.85,245.1 L386.22,245.16 L386.59,245.21 L386.96,245.27 L387.33,245.32 L387.7,245.37" stroke-width="3.4" stroke-linejoin="round" stroke-linecap="butt"/>
<path d="M53.6,247.59l3.8,3.8M53.6,251.39l3.8,-3.8M53.97,247.59l3.8,3.8M53.97,251.39l3.8,-3.8M54.34,247.59l3.8,3.8M54.34,251.39l3.8,-3.8M54.71,247.59l3.8,3.8M54.71,251.39l3.8,-3.8M55.08,247.59l3.8,3.8M55.08,251.39l3.8,-3.8M55.45,247.59l3.8,3.8M55.45,251.39l3.8,-3.8M55.81,247.59l3.8,3.8M55.81,251.39l3.8,-3.8M56.18,247.59l3.8,3.8M56.18,251.39l3.8,-3.8M56.55,247.59l3.8,3.8M56.55,251.39l3.8,-3.8M56.92,247.59l3.8,3.8M56.92,251.39l3.8,-3.8M57.29,247.59l3.8,3.8M57.29,251.39l3.8,-3.8M57.66,247.59l3.8,3.8M57.66,251.39l3.8,-3.8M58.03,247.59l3.8,3.8M58.03,251.39l3.8,-3.8M58.4,247.59l3.8,3.8M58.4,251.39l3.8,-3.8M58.77,247.59l3.8,3.8M58.77,251.39l3.8,-3.8M59.14,247.59l3.8,3.8M59.14,251.39l3.8,-3.8M59.51,247.59l3.8,3.8M59.51,251.39l3.8,-3.8M59.87,247.59l3.8,3.8M59.87,251.39l3.8,-3.8M60.24,247.59l3.8,3.8M60.24,251.39l3.8,-3.8M60.61,247.59l3.8,3.8M60.61,251.39l3.8,-3.8M60.98,247.59l3.8,3.8M60.98,251.39l3.8,-3.8M61.35,247.59l3.8,3.8M61.35,251.39l3.8,-3.8M61.72,247.59l3.8,3.8M61.72,251.39l3.8,-3.8M62.09,247.59l3.8,3.8M62.09,251.39l3.8,-3.8M62.46,247.59l3.8,3.8M62.46,251.39l3.8,-3.8M62.83,247.58l3.8,3.8M62.83,251.38l3.8,-3.8M63.2,247.58l3.8,3.8M63.2,251.38l3.8,-3.8M63.57,247.58l3.8,3.8M63.57,251.38l3.8,-3.8M63.94,247.58l3.8,3.8M63.94,251.38l3.8,-3.8M64.3,247.58l3.8,3.8M64.3,251.38l3.8,-3.8M64.67,247.58l3.8,3.8M64.67,251.38l3.8,-3.8M65.04,247.58l3.8,3.8M65.04,251.38l3.8,-3.8M65.41,247.58l3.8,3.8M65.41,251.38l3.8,-3.8M65.78,247.58l3.8,3.8M65.78,251.38l3.8,-3.8M66.15,247.58l3.8,3.8M66.15,251.38l3.8,-3.8M66.52,247.58l3.8,3.8M66.52,251.38l3.8,-3.8M66.89,247.58l3.8,3.8M66.89,251.38l3.8,-3.8M67.26,247.58l3.8,3.8M67.26,251.38l3.8,-3.8M67.63,247.58l3.8,3.8M67.63,251.38l3.8,-3.8M68,247.58l3.8,3.8M68,251.38l3.8,-3.8M68.36,247.58l3.8,3.8M68.36,251.38l3.8,-3.8M68.73,247.58l3.8,3.8M68.73,251.38l3.8,-3.8M69.1,247.58l3.8,3.8M69.1,251.38l3.8,-3.8M69.47,247.58l3.8,3.8M69.47,251.38l3.8,-3.8M69.84,247.58l3.8,3.8M69.84,251.38l3.8,-3.8M70.21,247.58l3.8,3.8M70.21,251.38l3.8,-3.8M70.58,247.58l3.8,3.8M70.58,251.38l3.8,-3.8M70.95,247.58l3.8,3.8M70.95,251.38l3.8,-3.8M71.32,247.58l3.8,3.8M71.32,251.38l3.8,-3.8M71.69,247.58l3.8,3.8M71.69,251.38l3.8,-3.8M72.06,247.58l3.8,3.8M72.06,251.38l3.8,-3.8M72.42,247.58l3.8,3.8M72.42,251.38l3.8,-3.8M72.79,247.58l3.8,3.8M72.79,251.38l3.8,-3.8M73.16,247.58l3.8,3.8M73.16,251.38l3.8,-3.8M73.53,247.57l3.8,3.8M73.53,251.37l3.8,-3.8M73.9,247.57l3.8,3.8M73.9,251.37l3.8,-3.8M74.27,247.57l3.8,3.8M74.27,251.37l3.8,-3.8M74.64,247.57l3.8,3.8M74.64,251.37l3.8,-3.8M75.01,247.57l3.8,3.8M75.01,251.37l3.8,-3.8M75.38,247.57l3.8,3.8M75.38,251.37l3.8,-3.8M75.75,247.57l3.8,3.8M75.75,251.37l3.8,-3.8M76.12,247.57l3.8,3.8M76.12,251.37l3.8,-3.8M76.48,247.57l3.8,3.8M76.48,251.37l3.8,-3.8M76.85,247.57l3.8,3.8M76.85,251.37l3.8,-3.8M77.22,247.57l3.8,3.8M77.22,251.37l3.8,-3.8M77.59,247.57l3.8,3.8M77.59,251.37l3.8,-3.8M77.96,247.57l3.8,3.8M77.96,251.37l3.8,-3.8M78.33,247.57l3.8,3.8M78.33,251.37l3.8,-3.8M78.7,247.57l3.8,3.8M78.7,251.37l3.8,-3.8M79.07,247.57l3.8,3.8M79.07,251.37l3.8,-3.8M79.44,247.57l3.8,3.8M79.44,251.37l3.8,-3.8M79.81,247.57l3.8,3.8M79.81,251.37l3.8,-3.8M80.18,247.57l3.8,3.8M80.18,251.37l3.8,-3.8M80.55,247.56l3.8,3.8M80.55,251.36l3.8,-3.8M80.91,247.56l3.8,3.8M80.91,251.36l3.8,-3.8M81.28,247.56l3.8,3.8M81.28,251.36l3.8,-3.8M81.65,247.56l3.8,3.8M81.65,251.36l3.8,-3.8M82.02,247.56l3.8,3.8M82.02,251.36l3.8,-3.8M82.39,247.56l3.8,3.8M82.39,251.36l3.8,-3.8M82.76,247.56l3.8,3.8M82.76,251.36l3.8,-3.8M83.13,247.56l3.8,3.8M83.13,251.36l3.8,-3.8M83.5,247.56l3.8,3.8M83.5,251.36l3.8,-3.8M83.87,247.56l3.8,3.8M83.87,251.36l3.8,-3.8M84.24,247.56l3.8,3.8M84.24,251.36l3.8,-3.8M84.61,247.56l3.8,3.8M84.61,251.36l3.8,-3.8M84.97,247.56l3.8,3.8M84.97,251.36l3.8,-3.8M85.34,247.56l3.8,3.8M85.34,251.36l3.8,-3.8M85.71,247.55l3.8,3.8M85.71,251.35l3.8,-3.8M86.08,247.55l3.8,3.8M86.08,251.35l3.8,-3.8M86.45,247.55l3.8,3.8M86.45,251.35l3.8,-3.8M86.82,247.55l3.8,3.8M86.82,251.35l3.8,-3.8M87.19,247.55l3.8,3.8M87.19,251.35l3.8,-3.8M87.56,247.55l3.8,3.8M87.56,251.35l3.8,-3.8M87.93,247.55l3.8,3.8M87.93,251.35l3.8,-3.8M88.3,247.55l3.8,3.8M88.3,251.35l3.8,-3.8M88.67,247.55l3.8,3.8M88.67,251.35l3.8,-3.8M89.03,247.55l3.8,3.8M89.03,251.35l3.8,-3.8M89.4,247.55l3.8,3.8M89.4,251.35l3.8,-3.8M89.77,247.55l3.8,3.8M89.77,251.35l3.8,-3.8M90.14,247.54l3.8,3.8M90.14,251.34l3.8,-3.8M90.51,247.54l3.8,3.8M90.51,251.34l3.8,-3.8M90.88,247.54l3.8,3.8M90.88,251.34l3.8,-3.8M91.25,247.54l3.8,3.8M91.25,251.34l3.8,-3.8M91.62,247.54l3.8,3.8M91.62,251.34l3.8,-3.8M91.99,247.54l3.8,3.8M91.99,251.34l3.8,-3.8M92.36,247.54l3.8,3.8M92.36,251.34l3.8,-3.8M92.73,247.54l3.8,3.8M92.73,251.34l3.8,-3.8M93.09,247.54l3.8,3.8M93.09,251.34l3.8,-3.8M93.46,247.53l3.8,3.8M93.46,251.33l3.8,-3.8M93.83,247.53l3.8,3.8M93.83,251.33l3.8,-3.8M94.2,247.53l3.8,3.8M94.2,251.33l3.8,-3.8M94.57,247.53l3.8,3.8M94.57,251.33l3.8,-3.8M94.94,247.53l3.8,3.8M94.94,251.33l3.8,-3.8M95.31,247.53l3.8,3.8M95.31,251.33l3.8,-3.8M95.68,247.53l3.8,3.8M95.68,251.33l3.8,-3.8M96.05,247.53l3.8,3.8M96.05,251.33l3.8,-3.8M96.42,247.52l3.8,3.8M96.42,251.32l3.8,-3.8M96.79,247.52l3.8,3.8M96.79,251.32l3.8,-3.8M97.16,247.52l3.8,3.8M97.16,251.32l3.8,-3.8M97.52,247.52l3.8,3.8M97.52,251.32l3.8,-3.8M97.89,247.52l3.8,3.8M97.89,251.32l3.8,-3.8M98.26,247.52l3.8,3.8M98.26,251.32l3.8,-3.8M98.63,247.52l3.8,3.8M98.63,251.32l3.8,-3.8M99,247.52l3.8,3.8M99,251.32l3.8,-3.8M99.37,247.51l3.8,3.8M99.37,251.31l3.8,-3.8M99.74,247.51l3.8,3.8M99.74,251.31l3.8,-3.8M100.11,247.51l3.8,3.8M100.11,251.31l3.8,-3.8M100.48,247.51l3.8,3.8M100.48,251.31l3.8,-3.8M100.85,247.51l3.8,3.8M100.85,251.31l3.8,-3.8M101.22,247.51l3.8,3.8M101.22,251.31l3.8,-3.8M101.58,247.5l3.8,3.8M101.58,251.3l3.8,-3.8M101.95,247.5l3.8,3.8M101.95,251.3l3.8,-3.8M102.32,247.5l3.8,3.8M102.32,251.3l3.8,-3.8M102.69,247.5l3.8,3.8M102.69,251.3l3.8,-3.8M103.06,247.5l3.8,3.8M103.06,251.3l3.8,-3.8M103.43,247.5l3.8,3.8M103.43,251.3l3.8,-3.8M103.8,247.49l3.8,3.8M103.8,251.29l3.8,-3.8M104.17,247.49l3.8,3.8M104.17,251.29l3.8,-3.8M104.54,247.49l3.8,3.8M104.54,251.29l3.8,-3.8M104.91,247.49l3.8,3.8M104.91,251.29l3.8,-3.8M105.28,247.49l3.8,3.8M105.28,251.29l3.8,-3.8M105.64,247.48l3.8,3.8M105.64,251.28l3.8,-3.8M106.01,247.48l3.8,3.8M106.01,251.28l3.8,-3.8M106.38,247.48l3.8,3.8M106.38,251.28l3.8,-3.8M106.75,247.48l3.8,3.8M106.75,251.28l3.8,-3.8M107.12,247.48l3.8,3.8M107.12,251.28l3.8,-3.8M107.49,247.47l3.8,3.8M107.49,251.27l3.8,-3.8M107.86,247.47l3.8,3.8M107.86,251.27l3.8,-3.8M108.23,247.47l3.8,3.8M108.23,251.27l3.8,-3.8M108.6,247.47l3.8,3.8M108.6,251.27l3.8,-3.8M108.97,247.47l3.8,3.8M108.97,251.27l3.8,-3.8M109.34,247.46l3.8,3.8M109.34,251.26l3.8,-3.8M109.7,247.46l3.8,3.8M109.7,251.26l3.8,-3.8M110.07,247.46l3.8,3.8M110.07,251.26l3.8,-3.8M110.44,247.46l3.8,3.8M110.44,251.26l3.8,-3.8M110.81,247.45l3.8,3.8M110.81,251.25l3.8,-3.8M111.18,247.45l3.8,3.8M111.18,251.25l3.8,-3.8M111.55,247.45l3.8,3.8M111.55,251.25l3.8,-3.8M111.92,247.45l3.8,3.8M111.92,251.25l3.8,-3.8M112.29,247.44l3.8,3.8M112.29,251.24l3.8,-3.8M112.66,247.44l3.8,3.8M112.66,251.24l3.8,-3.8M113.03,247.44l3.8,3.8M113.03,251.24l3.8,-3.8M113.4,247.44l3.8,3.8M113.4,251.24l3.8,-3.8M113.77,247.43l3.8,3.8M113.77,251.23l3.8,-3.8M114.13,247.43l3.8,3.8M114.13,251.23l3.8,-3.8M114.5,247.43l3.8,3.8M114.5,251.23l3.8,-3.8M114.87,247.42l3.8,3.8M114.87,251.22l3.8,-3.8M115.24,247.42l3.8,3.8M115.24,251.22l3.8,-3.8M115.61,247.42l3.8,3.8M115.61,251.22l3.8,-3.8M115.98,247.41l3.8,3.8M115.98,251.21l3.8,-3.8M116.35,247.41l3.8,3.8M116.35,251.21l3.8,-3.8M116.72,247.41l3.8,3.8M116.72,251.21l3.8,-3.8M117.09,247.41l3.8,3.8M117.09,251.21l3.8,-3.8M117.46,247.4l3.8,3.8M117.46,251.2l3.8,-3.8M117.83,247.4l3.8,3.8M117.83,251.2l3.8,-3.8M118.19,247.4l3.8,3.8M118.19,251.2l3.8,-3.8M118.56,247.39l3.8,3.8M118.56,251.19l3.8,-3.8M118.93,247.39l3.8,3.8M118.93,251.19l3.8,-3.8M119.3,247.38l3.8,3.8M119.3,251.18l3.8,-3.8M119.67,247.38l3.8,3.8M119.67,251.18l3.8,-3.8M120.04,247.38l3.8,3.8M120.04,251.18l3.8,-3.8M120.41,247.37l3.8,3.8M120.41,251.17l3.8,-3.8M120.78,247.37l3.8,3.8M120.78,251.17l3.8,-3.8M121.15,247.37l3.8,3.8M121.15,251.17l3.8,-3.8M121.52,247.36l3.8,3.8M121.52,251.16l3.8,-3.8M121.89,247.36l3.8,3.8M121.89,251.16l3.8,-3.8M122.25,247.35l3.8,3.8M122.25,251.15l3.8,-3.8M122.62,247.35l3.8,3.8M122.62,251.15l3.8,-3.8M122.99,247.35l3.8,3.8M122.99,251.15l3.8,-3.8M123.36,247.34l3.8,3.8M123.36,251.14l3.8,-3.8M123.73,247.34l3.8,3.8M123.73,251.14l3.8,-3.8M124.1,247.33l3.8,3.8M124.1,251.13l3.8,-3.8M124.47,247.33l3.8,3.8M124.47,251.13l3.8,-3.8M124.84,247.32l3.8,3.8M124.84,251.12l3.8,-3.8M125.21,247.32l3.8,3.8M125.21,251.12l3.8,-3.8M125.58,247.31l3.8,3.8M125.58,251.11l3.8,-3.8M125.95,247.31l3.8,3.8M125.95,251.11l3.8,-3.8M126.31,247.3l3.8,3.8M126.31,251.1l3.8,-3.8M126.68,247.3l3.8,3.8M126.68,251.1l3.8,-3.8M127.05,247.29l3.8,3.8M127.05,251.09l3.8,-3.8M127.42,247.29l3.8,3.8M127.42,251.09l3.8,-3.8M127.79,247.28l3.8,3.8M127.79,251.08l3.8,-3.8M128.16,247.28l3.8,3.8M128.16,251.08l3.8,-3.8M128.53,247.27l3.8,3.8M128.53,251.07l3.8,-3.8M128.9,247.27l3.8,3.8M128.9,251.07l3.8,-3.8M129.27,247.26l3.8,3.8M129.27,251.06l3.8,-3.8M129.64,247.26l3.8,3.8M129.64,251.06l3.8,-3.8M130.01,247.25l3.8,3.8M130.01,251.05l3.8,-3.8M130.38,247.25l3.8,3.8M130.38,251.05l3.8,-3.8M130.74,247.24l3.8,3.8M130.74,251.04l3.8,-3.8M131.11,247.23l3.8,3.8M131.11,251.03l3.8,-3.8M131.48,247.23l3.8,3.8M131.48,251.03l3.8,-3.8M131.85,247.22l3.8,3.8M131.85,251.02l3.8,-3.8M132.22,247.22l3.8,3.8M132.22,251.02l3.8,-3.8M132.59,247.21l3.8,3.8M132.59,251.01l3.8,-3.8M132.96,247.2l3.8,3.8M132.96,251l3.8,-3.8M133.33,247.2l3.8,3.8M133.33,251l3.8,-3.8M133.7,247.19l3.8,3.8M133.7,250.99l3.8,-3.8M134.07,247.18l3.8,3.8M134.07,250.98l3.8,-3.8M134.44,247.18l3.8,3.8M134.44,250.98l3.8,-3.8M134.8,247.17l3.8,3.8M134.8,250.97l3.8,-3.8M135.17,247.16l3.8,3.8M135.17,250.96l3.8,-3.8M135.54,247.16l3.8,3.8M135.54,250.96l3.8,-3.8M135.91,247.15l3.8,3.8M135.91,250.95l3.8,-3.8M136.28,247.14l3.8,3.8M136.28,250.94l3.8,-3.8M136.65,247.13l3.8,3.8M136.65,250.93l3.8,-3.8M137.02,247.13l3.8,3.8M137.02,250.93l3.8,-3.8M137.39,247.12l3.8,3.8M137.39,250.92l3.8,-3.8M137.76,247.11l3.8,3.8M137.76,250.91l3.8,-3.8M138.13,247.1l3.8,3.8M138.13,250.9l3.8,-3.8M138.5,247.09l3.8,3.8M138.5,250.89l3.8,-3.8M138.86,247.09l3.8,3.8M138.86,250.89l3.8,-3.8M139.23,247.08l3.8,3.8M139.23,250.88l3.8,-3.8M139.6,247.07l3.8,3.8M139.6,250.87l3.8,-3.8M139.97,247.06l3.8,3.8M139.97,250.86l3.8,-3.8M140.34,247.05l3.8,3.8M140.34,250.85l3.8,-3.8M140.71,247.04l3.8,3.8M140.71,250.84l3.8,-3.8M141.08,247.03l3.8,3.8M141.08,250.83l3.8,-3.8M141.45,247.02l3.8,3.8M141.45,250.82l3.8,-3.8M141.82,247.01l3.8,3.8M141.82,250.81l3.8,-3.8M142.19,247.01l3.8,3.8M142.19,250.81l3.8,-3.8M142.56,247l3.8,3.8M142.56,250.8l3.8,-3.8M142.92,246.99l3.8,3.8M142.92,250.79l3.8,-3.8M143.29,246.98l3.8,3.8M143.29,250.78l3.8,-3.8M143.66,246.97l3.8,3.8M143.66,250.77l3.8,-3.8M144.03,246.96l3.8,3.8M144.03,250.76l3.8,-3.8M144.4,246.95l3.8,3.8M144.4,250.75l3.8,-3.8M144.77,246.94l3.8,3.8M144.77,250.74l3.8,-3.8M145.14,246.92l3.8,3.8M145.14,250.72l3.8,-3.8M145.51,246.91l3.8,3.8M145.51,250.71l3.8,-3.8M145.88,246.9l3.8,3.8M145.88,250.7l3.8,-3.8M146.25,246.89l3.8,3.8M146.25,250.69l3.8,-3.8M146.62,246.88l3.8,3.8M146.62,250.68l3.8,-3.8M146.99,246.87l3.8,3.8M146.99,250.67l3.8,-3.8M147.35,246.86l3.8,3.8M147.35,250.66l3.8,-3.8M147.72,246.85l3.8,3.8M147.72,250.65l3.8,-3.8M148.09,246.83l3.8,3.8M148.09,250.63l3.8,-3.8M148.46,246.82l3.8,3.8M148.46,250.62l3.8,-3.8M148.83,246.81l3.8,3.8M148.83,250.61l3.8,-3.8M149.2,246.8l3.8,3.8M149.2,250.6l3.8,-3.8M149.57,246.78l3.8,3.8M149.57,250.58l3.8,-3.8M149.94,246.77l3.8,3.8M149.94,250.57l3.8,-3.8M150.31,246.76l3.8,3.8M150.31,250.56l3.8,-3.8M150.68,246.74l3.8,3.8M150.68,250.54l3.8,-3.8M151.05,246.73l3.8,3.8M151.05,250.53l3.8,-3.8M151.41,246.72l3.8,3.8M151.41,250.52l3.8,-3.8M151.78,246.7l3.8,3.8M151.78,250.5l3.8,-3.8M152.15,246.69l3.8,3.8M152.15,250.49l3.8,-3.8M152.52,246.67l3.8,3.8M152.52,250.47l3.8,-3.8M152.89,246.66l3.8,3.8M152.89,250.46l3.8,-3.8M153.26,246.64l3.8,3.8M153.26,250.44l3.8,-3.8M153.63,246.63l3.8,3.8M153.63,250.43l3.8,-3.8M154,246.61l3.8,3.8M154,250.41l3.8,-3.8M154.37,246.6l3.8,3.8M154.37,250.4l3.8,-3.8M154.74,246.58l3.8,3.8M154.74,250.38l3.8,-3.8M155.11,246.57l3.8,3.8M155.11,250.37l3.8,-3.8M155.47,246.55l3.8,3.8M155.47,250.35l3.8,-3.8M155.84,246.53l3.8,3.8M155.84,250.33l3.8,-3.8M156.21,246.52l3.8,3.8M156.21,250.32l3.8,-3.8M156.58,246.5l3.8,3.8M156.58,250.3l3.8,-3.8M156.95,246.48l3.8,3.8M156.95,250.28l3.8,-3.8M157.32,246.47l3.8,3.8M157.32,250.27l3.8,-3.8M157.69,246.45l3.8,3.8M157.69,250.25l3.8,-3.8M158.06,246.43l3.8,3.8M158.06,250.23l3.8,-3.8M158.43,246.41l3.8,3.8M158.43,250.21l3.8,-3.8M158.8,246.39l3.8,3.8M158.8,250.19l3.8,-3.8M159.17,246.37l3.8,3.8M159.17,250.17l3.8,-3.8M159.53,246.36l3.8,3.8M159.53,250.16l3.8,-3.8M159.9,246.34l3.8,3.8M159.9,250.14l3.8,-3.8M160.27,246.32l3.8,3.8M160.27,250.12l3.8,-3.8M160.64,246.3l3.8,3.8M160.64,250.1l3.8,-3.8M161.01,246.28l3.8,3.8M161.01,250.08l3.8,-3.8M161.38,246.26l3.8,3.8M161.38,250.06l3.8,-3.8M161.75,246.23l3.8,3.8M161.75,250.03l3.8,-3.8M162.12,246.21l3.8,3.8M162.12,250.01l3.8,-3.8M162.49,246.19l3.8,3.8M162.49,249.99l3.8,-3.8M162.86,246.17l3.8,3.8M162.86,249.97l3.8,-3.8M163.23,246.15l3.8,3.8M163.23,249.95l3.8,-3.8M163.6,246.13l3.8,3.8M163.6,249.93l3.8,-3.8M163.96,246.1l3.8,3.8M163.96,249.9l3.8,-3.8M164.33,246.08l3.8,3.8M164.33,249.88l3.8,-3.8M164.7,246.06l3.8,3.8M164.7,249.86l3.8,-3.8M165.07,246.03l3.8,3.8M165.07,249.83l3.8,-3.8M165.44,246.01l3.8,3.8M165.44,249.81l3.8,-3.8M165.81,245.99l3.8,3.8M165.81,249.79l3.8,-3.8M166.18,245.96l3.8,3.8M166.18,249.76l3.8,-3.8M166.55,245.94l3.8,3.8M166.55,249.74l3.8,-3.8M166.92,245.91l3.8,3.8M166.92,249.71l3.8,-3.8M167.29,245.88l3.8,3.8M167.29,249.68l3.8,-3.8M167.66,245.86l3.8,3.8M167.66,249.66l3.8,-3.8M168.02,245.83l3.8,3.8M168.02,249.63l3.8,-3.8M168.39,245.8l3.8,3.8M168.39,249.6l3.8,-3.8M168.76,245.78l3.8,3.8M168.76,249.58l3.8,-3.8M169.13,245.75l3.8,3.8M169.13,249.55l3.8,-3.8M169.5,245.72l3.8,3.8M169.5,249.52l3.8,-3.8M169.87,245.69l3.8,3.8M169.87,249.49l3.8,-3.8M170.24,245.66l3.8,3.8M170.24,249.46l3.8,-3.8M170.61,245.64l3.8,3.8M170.61,249.44l3.8,-3.8M170.98,245.61l3.8,3.8M170.98,249.41l3.8,-3.8M171.35,245.58l3.8,3.8M171.35,249.38l3.8,-3.8M171.72,245.55l3.8,3.8M171.72,249.35l3.8,-3.8M172.08,245.51l3.8,3.8M172.08,249.31l3.8,-3.8M172.45,245.48l3.8,3.8M172.45,249.28l3.8,-3.8M172.82,245.45l3.8,3.8M172.82,249.25l3.8,-3.8M173.19,245.42l3.8,3.8M173.19,249.22l3.8,-3.8M173.56,245.39l3.8,3.8M173.56,249.19l3.8,-3.8M173.93,245.35l3.8,3.8M173.93,249.15l3.8,-3.8M174.3,245.32l3.8,3.8M174.3,249.12l3.8,-3.8M174.67,245.29l3.8,3.8M174.67,249.09l3.8,-3.8M175.04,245.25l3.8,3.8M175.04,249.05l3.8,-3.8M175.41,245.22l3.8,3.8M175.41,249.02l3.8,-3.8M175.78,245.18l3.8,3.8M175.78,248.98l3.8,-3.8M176.14,245.14l3.8,3.8M176.14,248.94l3.8,-3.8M176.51,245.11l3.8,3.8M176.51,248.91l3.8,-3.8M176.88,245.07l3.8,3.8M176.88,248.87l3.8,-3.8M177.25,245.03l3.8,3.8M177.25,248.83l3.8,-3.8M177.62,244.99l3.8,3.8M177.62,248.79l3.8,-3.8M177.99,244.96l3.8,3.8M177.99,248.76l3.8,-3.8M178.36,244.92l3.8,3.8M178.36,248.72l3.8,-3.8M178.73,244.88l3.8,3.8M178.73,248.68l3.8,-3.8M179.1,244.84l3.8,3.8M179.1,248.64l3.8,-3.8M179.47,244.8l3.8,3.8M179.47,248.6l3.8,-3.8M179.84,244.76l3.8,3.8M179.84,248.56l3.8,-3.8M180.21,244.71l3.8,3.8M180.21,248.51l3.8,-3.8M180.57,244.67l3.8,3.8M180.57,248.47l3.8,-3.8M180.94,244.63l3.8,3.8M180.94,248.43l3.8,-3.8M181.31,244.58l3.8,3.8M181.31,248.38l3.8,-3.8M181.68,244.54l3.8,3.8M181.68,248.34l3.8,-3.8M182.05,244.49l3.8,3.8M182.05,248.29l3.8,-3.8M182.42,244.45l3.8,3.8M182.42,248.25l3.8,-3.8M182.79,244.4l3.8,3.8M182.79,248.2l3.8,-3.8M183.16,244.36l3.8,3.8M183.16,248.16l3.8,-3.8M183.53,244.31l3.8,3.8M183.53,248.11l3.8,-3.8M183.9,244.26l3.8,3.8M183.9,248.06l3.8,-3.8M184.27,244.21l3.8,3.8M184.27,248.01l3.8,-3.8M184.63,244.16l3.8,3.8M184.63,247.96l3.8,-3.8M185,244.11l3.8,3.8M185,247.91l3.8,-3.8M185.37,244.06l3.8,3.8M185.37,247.86l3.8,-3.8M185.74,244.01l3.8,3.8M185.74,247.81l3.8,-3.8M186.11,243.96l3.8,3.8M186.11,247.76l3.8,-3.8M186.48,243.91l3.8,3.8M186.48,247.71l3.8,-3.8M186.85,243.85l3.8,3.8M186.85,247.65l3.8,-3.8M187.22,243.8l3.8,3.8M187.22,247.6l3.8,-3.8M187.59,243.74l3.8,3.8M187.59,247.54l3.8,-3.8M187.96,243.69l3.8,3.8M187.96,247.49l3.8,-3.8M188.33,243.63l3.8,3.8M188.33,247.43l3.8,-3.8M188.69,243.58l3.8,3.8M188.69,247.38l3.8,-3.8M189.06,243.52l3.8,3.8M189.06,247.32l3.8,-3.8M189.43,243.46l3.8,3.8M189.43,247.26l3.8,-3.8M189.8,243.4l3.8,3.8M189.8,247.2l3.8,-3.8M190.17,243.34l3.8,3.8M190.17,247.14l3.8,-3.8M190.54,243.28l3.8,3.8M190.54,247.08l3.8,-3.8M190.91,243.22l3.8,3.8M190.91,247.02l3.8,-3.8M191.28,243.15l3.8,3.8M191.28,246.95l3.8,-3.8M191.65,243.09l3.8,3.8M191.65,246.89l3.8,-3.8M192.02,243.03l3.8,3.8M192.02,246.83l3.8,-3.8M192.39,242.96l3.8,3.8M192.39,246.76l3.8,-3.8M192.75,242.9l3.8,3.8M192.75,246.7l3.8,-3.8M193.12,242.83l3.8,3.8M193.12,246.63l3.8,-3.8M193.49,242.76l3.8,3.8M193.49,246.56l3.8,-3.8M193.86,242.69l3.8,3.8M193.86,246.49l3.8,-3.8M194.23,242.62l3.8,3.8M194.23,246.42l3.8,-3.8M194.6,242.55l3.8,3.8M194.6,246.35l3.8,-3.8M194.97,242.48l3.8,3.8M194.97,246.28l3.8,-3.8M195.34,242.41l3.8,3.8M195.34,246.21l3.8,-3.8M195.71,242.34l3.8,3.8M195.71,246.14l3.8,-3.8M196.08,242.26l3.8,3.8M196.08,246.06l3.8,-3.8M196.45,242.19l3.8,3.8M196.45,245.99l3.8,-3.8M196.82,242.11l3.8,3.8M196.82,245.91l3.8,-3.8M197.18,242.03l3.8,3.8M197.18,245.83l3.8,-3.8M197.55,241.95l3.8,3.8M197.55,245.75l3.8,-3.8M197.92,241.88l3.8,3.8M197.92,245.68l3.8,-3.8M198.29,241.8l3.8,3.8M198.29,245.6l3.8,-3.8M198.66,241.71l3.8,3.8M198.66,245.51l3.8,-3.8M199.03,241.63l3.8,3.8M199.03,245.43l3.8,-3.8M199.4,241.55l3.8,3.8M199.4,245.35l3.8,-3.8M199.77,241.46l3.8,3.8M199.77,245.26l3.8,-3.8M200.14,241.38l3.8,3.8M200.14,245.18l3.8,-3.8M200.51,241.29l3.8,3.8M200.51,245.09l3.8,-3.8M200.88,241.2l3.8,3.8M200.88,245l3.8,-3.8M201.24,241.12l3.8,3.8M201.24,244.92l3.8,-3.8M201.61,241.03l3.8,3.8M201.61,244.83l3.8,-3.8M201.98,240.93l3.8,3.8M201.98,244.73l3.8,-3.8M202.35,240.84l3.8,3.8M202.35,244.64l3.8,-3.8M202.72,240.75l3.8,3.8M202.72,244.55l3.8,-3.8M203.09,240.65l3.8,3.8M203.09,244.45l3.8,-3.8M203.46,240.56l3.8,3.8M203.46,244.36l3.8,-3.8M203.83,240.46l3.8,3.8M203.83,244.26l3.8,-3.8M204.2,240.36l3.8,3.8M204.2,244.16l3.8,-3.8M204.57,240.26l3.8,3.8M204.57,244.06l3.8,-3.8M204.94,240.16l3.8,3.8M204.94,243.96l3.8,-3.8M205.3,240.06l3.8,3.8M205.3,243.86l3.8,-3.8M205.67,239.95l3.8,3.8M205.67,243.75l3.8,-3.8M206.04,239.85l3.8,3.8M206.04,243.65l3.8,-3.8M206.41,239.74l3.8,3.8M206.41,243.54l3.8,-3.8M206.78,239.64l3.8,3.8M206.78,243.44l3.8,-3.8M207.15,239.53l3.8,3.8M207.15,243.33l3.8,-3.8M207.52,239.42l3.8,3.8M207.52,243.22l3.8,-3.8M207.89,239.3l3.8,3.8M207.89,243.1l3.8,-3.8M208.26,239.19l3.8,3.8M208.26,242.99l3.8,-3.8M208.63,239.08l3.8,3.8M208.63,242.88l3.8,-3.8M209,238.96l3.8,3.8M209,242.76l3.8,-3.8M209.36,238.84l3.8,3.8M209.36,242.64l3.8,-3.8M209.73,238.72l3.8,3.8M209.73,242.52l3.8,-3.8M210.1,238.6l3.8,3.8M210.1,242.4l3.8,-3.8M210.47,238.48l3.8,3.8M210.47,242.28l3.8,-3.8M210.84,238.35l3.8,3.8M210.84,242.15l3.8,-3.8M211.21,238.23l3.8,3.8M211.21,242.03l3.8,-3.8M211.58,238.1l3.8,3.8M211.58,241.9l3.8,-3.8M211.95,237.97l3.8,3.8M211.95,241.77l3.8,-3.8M212.32,237.84l3.8,3.8M212.32,241.64l3.8,-3.8M212.69,237.71l3.8,3.8M212.69,241.51l3.8,-3.8M213.06,237.58l3.8,3.8M213.06,241.38l3.8,-3.8M213.43,237.44l3.8,3.8M213.43,241.24l3.8,-3.8M213.79,237.3l3.8,3.8M213.79,241.1l3.8,-3.8M214.16,237.16l3.8,3.8M214.16,240.96l3.8,-3.8M214.53,237.02l3.8,3.8M214.53,240.82l3.8,-3.8M214.9,236.88l3.8,3.8M214.9,240.68l3.8,-3.8M215.27,236.74l3.8,3.8M215.27,240.54l3.8,-3.8M215.64,236.59l3.8,3.8M215.64,240.39l3.8,-3.8M216.01,236.44l3.8,3.8M216.01,240.24l3.8,-3.8M216.38,236.29l3.8,3.8M216.38,240.09l3.8,-3.8M216.75,236.14l3.8,3.8M216.75,239.94l3.8,-3.8M217.12,235.98l3.8,3.8M217.12,239.78l3.8,-3.8M217.49,235.83l3.8,3.8M217.49,239.63l3.8,-3.8M217.85,235.67l3.8,3.8M217.85,239.47l3.8,-3.8M218.22,235.51l3.8,3.8M218.22,239.31l3.8,-3.8M218.59,235.35l3.8,3.8M218.59,239.15l3.8,-3.8M218.96,235.18l3.8,3.8M218.96,238.98l3.8,-3.8M219.33,235.02l3.8,3.8M219.33,238.82l3.8,-3.8M219.7,234.85l3.8,3.8M219.7,238.65l3.8,-3.8M220.07,234.67l3.8,3.8M220.07,238.47l3.8,-3.8M220.44,234.5l3.8,3.8M220.44,238.3l3.8,-3.8M220.81,234.33l3.8,3.8M220.81,238.13l3.8,-3.8M221.18,234.15l3.8,3.8M221.18,237.95l3.8,-3.8M221.55,233.97l3.8,3.8M221.55,237.77l3.8,-3.8M221.91,233.78l3.8,3.8M221.91,237.58l3.8,-3.8M222.28,233.6l3.8,3.8M222.28,237.4l3.8,-3.8M222.65,233.41l3.8,3.8M222.65,237.21l3.8,-3.8M223.02,233.22l3.8,3.8M223.02,237.02l3.8,-3.8M223.39,233.03l3.8,3.8M223.39,236.83l3.8,-3.8M223.76,232.83l3.8,3.8M223.76,236.63l3.8,-3.8M224.13,232.64l3.8,3.8M224.13,236.44l3.8,-3.8M224.5,232.44l3.8,3.8M224.5,236.24l3.8,-3.8M224.87,232.23l3.8,3.8M224.87,236.03l3.8,-3.8M225.24,232.03l3.8,3.8M225.24,235.83l3.8,-3.8M225.61,231.82l3.8,3.8M225.61,235.62l3.8,-3.8M225.97,231.61l3.8,3.8M225.97,235.41l3.8,-3.8M226.34,231.39l3.8,3.8M226.34,235.19l3.8,-3.8M226.71,231.17l3.8,3.8M226.71,234.97l3.8,-3.8M227.08,230.95l3.8,3.8M227.08,234.75l3.8,-3.8M227.45,230.73l3.8,3.8M227.45,234.53l3.8,-3.8M227.82,230.5l3.8,3.8M227.82,234.3l3.8,-3.8M228.19,230.27l3.8,3.8M228.19,234.07l3.8,-3.8M228.56,230.04l3.8,3.8M228.56,233.84l3.8,-3.8M228.93,229.8l3.8,3.8M228.93,233.6l3.8,-3.8M229.3,229.56l3.8,3.8M229.3,233.36l3.8,-3.8M229.67,229.32l3.8,3.8M229.67,233.12l3.8,-3.8M230.04,229.07l3.8,3.8M230.04,232.87l3.8,-3.8M230.4,228.82l3.8,3.8M230.4,232.62l3.8,-3.8M230.77,228.57l3.8,3.8M230.77,232.37l3.8,-3.8M231.14,228.31l3.8,3.8M231.14,232.11l3.8,-3.8M231.51,228.05l3.8,3.8M231.51,231.85l3.8,-3.8M231.88,227.79l3.8,3.8M231.88,231.59l3.8,-3.8M232.25,227.52l3.8,3.8M232.25,231.32l3.8,-3.8M232.62,227.25l3.8,3.8M232.62,231.05l3.8,-3.8M232.99,226.97l3.8,3.8M232.99,230.77l3.8,-3.8M233.36,226.69l3.8,3.8M233.36,230.49l3.8,-3.8M233.73,226.41l3.8,3.8M233.73,230.21l3.8,-3.8M234.1,226.12l3.8,3.8M234.1,229.92l3.8,-3.8M234.46,225.82l3.8,3.8M234.46,229.62l3.8,-3.8M234.83,225.53l3.8,3.8M234.83,229.33l3.8,-3.8M235.2,225.22l3.8,3.8M235.2,229.02l3.8,-3.8M235.57,224.92l3.8,3.8M235.57,228.72l3.8,-3.8M235.94,224.61l3.8,3.8M235.94,228.41l3.8,-3.8M236.31,224.29l3.8,3.8M236.31,228.09l3.8,-3.8M236.68,223.97l3.8,3.8M236.68,227.77l3.8,-3.8M237.05,223.64l3.8,3.8M237.05,227.44l3.8,-3.8M237.42,223.31l3.8,3.8M237.42,227.11l3.8,-3.8M237.79,222.97l3.8,3.8M237.79,226.77l3.8,-3.8M238.16,222.63l3.8,3.8M238.16,226.43l3.8,-3.8M238.52,222.28l3.8,3.8M238.52,226.08l3.8,-3.8M238.89,221.93l3.8,3.8M238.89,225.73l3.8,-3.8M239.26,221.57l3.8,3.8M239.26,225.37l3.8,-3.8M239.63,221.21l3.8,3.8M239.63,225.01l3.8,-3.8M240,220.84l3.8,3.8M240,224.64l3.8,-3.8M240.37,220.46l3.8,3.8M240.37,224.26l3.8,-3.8M240.74,220.08l3.8,3.8M240.74,223.88l3.8,-3.8M241.11,219.69l3.8,3.8M241.11,223.49l3.8,-3.8M241.48,219.29l3.8,3.8M241.48,223.09l3.8,-3.8M241.85,218.89l3.8,3.8M241.85,222.69l3.8,-3.8M242.22,218.48l3.8,3.8M242.22,222.28l3.8,-3.8M242.58,218.06l3.8,3.8M242.58,221.86l3.8,-3.8M242.95,217.63l3.8,3.8M242.95,221.43l3.8,-3.8M243.32,217.2l3.8,3.8M243.32,221l3.8,-3.8M243.69,216.76l3.8,3.8M243.69,220.56l3.8,-3.8M244.06,216.31l3.8,3.8M244.06,220.11l3.8,-3.8M244.43,215.86l3.8,3.8M244.43,219.66l3.8,-3.8M244.8,215.39l3.8,3.8M244.8,219.19l3.8,-3.8M245.17,214.92l3.8,3.8M245.17,218.72l3.8,-3.8M245.54,214.44l3.8,3.8M245.54,218.24l3.8,-3.8M245.91,213.95l3.8,3.8M245.91,217.75l3.8,-3.8M246.28,213.45l3.8,3.8M246.28,217.25l3.8,-3.8M246.65,212.94l3.8,3.8M246.65,216.74l3.8,-3.8M247.01,212.42l3.8,3.8M247.01,216.22l3.8,-3.8M247.38,211.89l3.8,3.8M247.38,215.69l3.8,-3.8M247.75,211.35l3.8,3.8M247.75,215.15l3.8,-3.8M248.12,210.79l3.8,3.8M248.12,214.59l3.8,-3.8M248.49,210.23l3.8,3.8M248.49,214.03l3.8,-3.8M248.86,209.66l3.8,3.8M248.86,213.46l3.8,-3.8M249.23,209.07l3.8,3.8M249.23,212.87l3.8,-3.8M249.6,208.47l3.8,3.8M249.6,212.27l3.8,-3.8M249.97,207.86l3.8,3.8M249.97,211.66l3.8,-3.8M250.34,207.24l3.8,3.8M250.34,211.04l3.8,-3.8M250.71,206.6l3.8,3.8M250.71,210.4l3.8,-3.8M251.07,205.95l3.8,3.8M251.07,209.75l3.8,-3.8M251.44,205.28l3.8,3.8M251.44,209.08l3.8,-3.8M251.81,204.6l3.8,3.8M251.81,208.4l3.8,-3.8M252.18,203.91l3.8,3.8M252.18,207.71l3.8,-3.8M252.55,203.2l3.8,3.8M252.55,207l3.8,-3.8M252.92,202.47l3.8,3.8M252.92,206.27l3.8,-3.8M253.29,201.72l3.8,3.8M253.29,205.52l3.8,-3.8M253.66,200.96l3.8,3.8M253.66,204.76l3.8,-3.8M254.03,200.18l3.8,3.8M254.03,203.98l3.8,-3.8M254.4,199.38l3.8,3.8M254.4,203.18l3.8,-3.8M254.77,198.56l3.8,3.8M254.77,202.36l3.8,-3.8M255.13,197.73l3.8,3.8M255.13,201.53l3.8,-3.8M255.5,196.87l3.8,3.8M255.5,200.67l3.8,-3.8M255.87,195.99l3.8,3.8M255.87,199.79l3.8,-3.8M256.24,195.08l3.8,3.8M256.24,198.88l3.8,-3.8M256.61,194.15l3.8,3.8M256.61,197.95l3.8,-3.8M256.98,193.2l3.8,3.8M256.98,197l3.8,-3.8M257.35,192.23l3.8,3.8M257.35,196.03l3.8,-3.8M257.72,191.22l3.8,3.8M257.72,195.02l3.8,-3.8M258.09,190.19l3.8,3.8M258.09,193.99l3.8,-3.8M258.46,189.13l3.8,3.8M258.46,192.93l3.8,-3.8M258.83,188.05l3.8,3.8M258.83,191.85l3.8,-3.8M259.19,186.93l3.8,3.8M259.19,190.73l3.8,-3.8M259.56,185.78l3.8,3.8M259.56,189.58l3.8,-3.8M259.93,184.59l3.8,3.8M259.93,188.39l3.8,-3.8M260.3,183.38l3.8,3.8M260.3,187.18l3.8,-3.8M260.67,182.12l3.8,3.8M260.67,185.92l3.8,-3.8M261.04,180.83l3.8,3.8M261.04,184.63l3.8,-3.8M261.41,179.5l3.8,3.8M261.41,183.3l3.8,-3.8M261.78,178.12l3.8,3.8M261.78,181.92l3.8,-3.8M262.15,176.71l3.8,3.8M262.15,180.51l3.8,-3.8M262.52,175.25l3.8,3.8M262.52,179.05l3.8,-3.8M262.89,173.74l3.8,3.8M262.89,177.54l3.8,-3.8M263.26,172.19l3.8,3.8M263.26,175.99l3.8,-3.8M263.62,170.58l3.8,3.8M263.62,174.38l3.8,-3.8M263.99,168.92l3.8,3.8M263.99,172.72l3.8,-3.8M264.36,167.2l3.8,3.8M264.36,171l3.8,-3.8M264.73,165.43l3.8,3.8M264.73,169.23l3.8,-3.8M265.1,163.59l3.8,3.8M265.1,167.39l3.8,-3.8M265.47,161.69l3.8,3.8M265.47,165.49l3.8,-3.8M265.84,159.72l3.8,3.8M265.84,163.52l3.8,-3.8M266.21,157.69l3.8,3.8M266.21,161.49l3.8,-3.8M266.58,155.57l3.8,3.8M266.58,159.37l3.8,-3.8M266.95,153.38l3.8,3.8M266.95,157.18l3.8,-3.8M267.32,151.11l3.8,3.8M267.32,154.91l3.8,-3.8M267.68,148.75l3.8,3.8M267.68,152.55l3.8,-3.8M268.05,146.3l3.8,3.8M268.05,150.1l3.8,-3.8M268.42,143.76l3.8,3.8M268.42,147.56l3.8,-3.8M268.79,141.12l3.8,3.8M268.79,144.92l3.8,-3.8M269.16,138.37l3.8,3.8M269.16,142.17l3.8,-3.8M269.53,135.51l3.8,3.8M269.53,139.31l3.8,-3.8M269.9,132.54l3.8,3.8M269.9,136.34l3.8,-3.8M270.27,129.44l3.8,3.8M270.27,133.24l3.8,-3.8M270.64,126.21l3.8,3.8M270.64,130.01l3.8,-3.8M271.01,122.82l3.8,3.8M271.01,126.62l3.8,-3.8M271.38,119.29l3.8,3.8M271.38,123.09l3.8,-3.8M271.74,115.6l3.8,3.8M271.74,119.4l3.8,-3.8M272.11,111.75l3.8,3.8M272.11,115.55l3.8,-3.8M272.48,107.73l3.8,3.8M272.48,111.53l3.8,-3.8M272.85,103.53l3.8,3.8M272.85,107.33l3.8,-3.8M273.22,99.14l3.8,3.8M273.22,102.94l3.8,-3.8M273.59,94.54l3.8,3.8M273.59,98.34l3.8,-3.8M273.96,89.74l3.8,3.8M273.96,93.54l3.8,-3.8M274.33,84.71l3.8,3.8M274.33,88.51l3.8,-3.8M274.7,79.44l3.8,3.8M274.7,83.24l3.8,-3.8M275.07,73.97l3.8,3.8M275.07,77.77l3.8,-3.8M275.44,68.28l3.8,3.8M275.44,72.08l3.8,-3.8M275.8,63.8l3.8,3.8M275.8,67.6l3.8,-3.8M276.17,58.2l3.8,3.8M276.17,62l3.8,-3.8M276.54,51.8l3.8,3.8M276.54,55.6l3.8,-3.8M276.91,45.6l3.8,3.8M276.91,49.4l3.8,-3.8M277.28,39l3.8,3.8M277.28,42.8l3.8,-3.8M277.65,31.3l3.8,3.8M277.65,35.1l3.8,-3.8M278.02,23.2l3.8,3.8M278.02,27l3.8,-3.8M278.39,14.7l3.8,3.8M278.39,18.5l3.8,-3.8M294.26,14.7l3.8,3.8M294.26,18.5l3.8,-3.8M294.63,23.2l3.8,3.8M294.63,27l3.8,-3.8M295,30.9l3.8,3.8M295,34.7l3.8,-3.8M295.37,38.2l3.8,3.8M295.37,42l3.8,-3.8M295.74,44.9l3.8,3.8M295.74,48.7l3.8,-3.8M296.11,51.8l3.8,3.8M296.11,55.6l3.8,-3.8M296.48,58.2l3.8,3.8M296.48,62l3.8,-3.8M296.84,63.8l3.8,3.8M296.84,67.6l3.8,-3.8M297.21,72.45l3.8,3.8M297.21,76.25l3.8,-3.8M297.58,77.85l3.8,3.8M297.58,81.65l3.8,-3.8M297.95,82.89l3.8,3.8M297.95,86.69l3.8,-3.8M298.32,87.51l3.8,3.8M298.32,91.31l3.8,-3.8M298.69,91.94l3.8,3.8M298.69,95.74l3.8,-3.8M299.06,96.2l3.8,3.8M299.06,100l3.8,-3.8M299.43,100.29l3.8,3.8M299.43,104.09l3.8,-3.8M299.8,104.23l3.8,3.8M299.8,108.03l3.8,-3.8M300.17,108.01l3.8,3.8M300.17,111.81l3.8,-3.8M300.54,111.65l3.8,3.8M300.54,115.45l3.8,-3.8M300.9,115.16l3.8,3.8M300.9,118.96l3.8,-3.8M301.27,118.53l3.8,3.8M301.27,122.33l3.8,-3.8M301.64,121.77l3.8,3.8M301.64,125.57l3.8,-3.8M302.01,124.9l3.8,3.8M302.01,128.7l3.8,-3.8M302.38,127.92l3.8,3.8M302.38,131.72l3.8,-3.8M302.75,130.93l3.8,3.8M302.75,134.73l3.8,-3.8M303.12,133.83l3.8,3.8M303.12,137.63l3.8,-3.8M303.49,136.62l3.8,3.8M303.49,140.42l3.8,-3.8M303.86,139.3l3.8,3.8M303.86,143.1l3.8,-3.8M304.23,141.89l3.8,3.8M304.23,145.69l3.8,-3.8M304.6,144.39l3.8,3.8M304.6,148.19l3.8,-3.8M304.96,146.79l3.8,3.8M304.96,150.59l3.8,-3.8M305.33,149.12l3.8,3.8M305.33,152.92l3.8,-3.8M305.7,151.36l3.8,3.8M305.7,155.16l3.8,-3.8M306.07,153.52l3.8,3.8M306.07,157.32l3.8,-3.8M306.44,155.61l3.8,3.8M306.44,159.41l3.8,-3.8M306.81,157.64l3.8,3.8M306.81,161.44l3.8,-3.8M307.18,159.59l3.8,3.8M307.18,163.39l3.8,-3.8M307.55,161.48l3.8,3.8M307.55,165.28l3.8,-3.8M307.92,163.32l3.8,3.8M307.92,167.12l3.8,-3.8M308.29,165.09l3.8,3.8M308.29,168.89l3.8,-3.8M308.66,166.81l3.8,3.8M308.66,170.61l3.8,-3.8M309.02,168.47l3.8,3.8M309.02,172.27l3.8,-3.8M309.39,170.09l3.8,3.8M309.39,173.89l3.8,-3.8M309.76,171.66l3.8,3.8M309.76,175.46l3.8,-3.8M310.13,173.18l3.8,3.8M310.13,176.98l3.8,-3.8M310.5,174.65l3.8,3.8M310.5,178.45l3.8,-3.8M310.87,176.09l3.8,3.8M310.87,179.89l3.8,-3.8M311.24,177.48l3.8,3.8M311.24,181.28l3.8,-3.8M311.61,178.83l3.8,3.8M311.61,182.63l3.8,-3.8M311.98,180.15l3.8,3.8M311.98,183.95l3.8,-3.8M312.35,181.43l3.8,3.8M312.35,185.23l3.8,-3.8M312.72,182.67l3.8,3.8M312.72,186.47l3.8,-3.8M313.09,183.88l3.8,3.8M313.09,187.68l3.8,-3.8M313.45,185.06l3.8,3.8M313.45,188.86l3.8,-3.8M313.82,186.21l3.8,3.8M313.82,190.01l3.8,-3.8M314.19,187.33l3.8,3.8M314.19,191.13l3.8,-3.8M314.56,188.41l3.8,3.8M314.56,192.21l3.8,-3.8M314.93,189.48l3.8,3.8M314.93,193.28l3.8,-3.8M315.3,190.51l3.8,3.8M315.3,194.31l3.8,-3.8M315.67,191.52l3.8,3.8M315.67,195.32l3.8,-3.8M316.04,192.5l3.8,3.8M316.04,196.3l3.8,-3.8M316.41,193.46l3.8,3.8M316.41,197.26l3.8,-3.8M316.78,194.4l3.8,3.8M316.78,198.2l3.8,-3.8M317.15,195.31l3.8,3.8M317.15,199.11l3.8,-3.8M317.51,196.21l3.8,3.8M317.51,200.01l3.8,-3.8M317.88,197.08l3.8,3.8M317.88,200.88l3.8,-3.8M318.25,197.93l3.8,3.8M318.25,201.73l3.8,-3.8M318.62,198.76l3.8,3.8M318.62,202.56l3.8,-3.8M318.99,199.58l3.8,3.8M318.99,203.38l3.8,-3.8M319.36,200.37l3.8,3.8M319.36,204.17l3.8,-3.8M319.73,201.15l3.8,3.8M319.73,204.95l3.8,-3.8M320.1,201.91l3.8,3.8M320.1,205.71l3.8,-3.8M320.47,202.65l3.8,3.8M320.47,206.45l3.8,-3.8M320.84,203.38l3.8,3.8M320.84,207.18l3.8,-3.8M321.21,204.09l3.8,3.8M321.21,207.89l3.8,-3.8M321.57,204.79l3.8,3.8M321.57,208.59l3.8,-3.8M321.94,205.47l3.8,3.8M321.94,209.27l3.8,-3.8M322.31,206.14l3.8,3.8M322.31,209.94l3.8,-3.8M322.68,206.79l3.8,3.8M322.68,210.59l3.8,-3.8M323.05,207.43l3.8,3.8M323.05,211.23l3.8,-3.8M323.42,208.06l3.8,3.8M323.42,211.86l3.8,-3.8M323.79,208.68l3.8,3.8M323.79,212.48l3.8,-3.8M324.16,209.28l3.8,3.8M324.16,213.08l3.8,-3.8M324.53,209.87l3.8,3.8M324.53,213.67l3.8,-3.8M324.9,210.45l3.8,3.8M324.9,214.25l3.8,-3.8M325.27,211.02l3.8,3.8M325.27,214.82l3.8,-3.8M325.63,211.57l3.8,3.8M325.63,215.37l3.8,-3.8M326,212.12l3.8,3.8M326,215.92l3.8,-3.8M326.37,212.65l3.8,3.8M326.37,216.45l3.8,-3.8M326.74,213.18l3.8,3.8M326.74,216.98l3.8,-3.8M327.11,213.69l3.8,3.8M327.11,217.49l3.8,-3.8M327.48,214.2l3.8,3.8M327.48,218l3.8,-3.8M327.85,214.7l3.8,3.8M327.85,218.5l3.8,-3.8M328.22,215.18l3.8,3.8M328.22,218.98l3.8,-3.8M328.59,215.66l3.8,3.8M328.59,219.46l3.8,-3.8M328.96,216.13l3.8,3.8M328.96,219.93l3.8,-3.8M329.33,216.59l3.8,3.8M329.33,220.39l3.8,-3.8M329.7,217.05l3.8,3.8M329.7,220.85l3.8,-3.8M330.06,217.49l3.8,3.8M330.06,221.29l3.8,-3.8M330.43,217.93l3.8,3.8M330.43,221.73l3.8,-3.8M330.8,218.36l3.8,3.8M330.8,222.16l3.8,-3.8M331.17,218.78l3.8,3.8M331.17,222.58l3.8,-3.8M331.54,219.19l3.8,3.8M331.54,222.99l3.8,-3.8M331.91,219.6l3.8,3.8M331.91,223.4l3.8,-3.8M332.28,220l3.8,3.8M332.28,223.8l3.8,-3.8M332.65,220.39l3.8,3.8M332.65,224.19l3.8,-3.8M333.02,220.78l3.8,3.8M333.02,224.58l3.8,-3.8M333.39,221.16l3.8,3.8M333.39,224.96l3.8,-3.8M333.76,221.54l3.8,3.8M333.76,225.34l3.8,-3.8M334.12,221.9l3.8,3.8M334.12,225.7l3.8,-3.8M334.49,222.26l3.8,3.8M334.49,226.06l3.8,-3.8M334.86,222.62l3.8,3.8M334.86,226.42l3.8,-3.8M335.23,222.97l3.8,3.8M335.23,226.77l3.8,-3.8M335.6,223.31l3.8,3.8M335.6,227.11l3.8,-3.8M335.97,223.65l3.8,3.8M335.97,227.45l3.8,-3.8M336.34,223.99l3.8,3.8M336.34,227.79l3.8,-3.8M336.71,224.31l3.8,3.8M336.71,228.11l3.8,-3.8M337.08,224.64l3.8,3.8M337.08,228.44l3.8,-3.8M337.45,224.95l3.8,3.8M337.45,228.75l3.8,-3.8M337.82,225.27l3.8,3.8M337.82,229.07l3.8,-3.8M338.18,225.57l3.8,3.8M338.18,229.37l3.8,-3.8M338.55,225.88l3.8,3.8M338.55,229.68l3.8,-3.8M338.92,226.17l3.8,3.8M338.92,229.97l3.8,-3.8M339.29,226.47l3.8,3.8M339.29,230.27l3.8,-3.8M339.66,226.75l3.8,3.8M339.66,230.55l3.8,-3.8M340.03,227.04l3.8,3.8M340.03,230.84l3.8,-3.8M340.4,227.32l3.8,3.8M340.4,231.12l3.8,-3.8M340.77,227.59l3.8,3.8M340.77,231.39l3.8,-3.8M341.14,227.87l3.8,3.8M341.14,231.67l3.8,-3.8M341.51,228.13l3.8,3.8M341.51,231.93l3.8,-3.8M341.88,228.4l3.8,3.8M341.88,232.2l3.8,-3.8M342.24,228.65l3.8,3.8M342.24,232.45l3.8,-3.8M342.61,228.91l3.8,3.8M342.61,232.71l3.8,-3.8M342.98,229.16l3.8,3.8M342.98,232.96l3.8,-3.8M343.35,229.41l3.8,3.8M343.35,233.21l3.8,-3.8M343.72,229.65l3.8,3.8M343.72,233.45l3.8,-3.8M344.09,229.89l3.8,3.8M344.09,233.69l3.8,-3.8M344.46,230.13l3.8,3.8M344.46,233.93l3.8,-3.8M344.83,230.36l3.8,3.8M344.83,234.16l3.8,-3.8M345.2,230.59l3.8,3.8M345.2,234.39l3.8,-3.8M345.57,230.82l3.8,3.8M345.57,234.62l3.8,-3.8M345.94,231.04l3.8,3.8M345.94,234.84l3.8,-3.8M346.31,231.26l3.8,3.8M346.31,235.06l3.8,-3.8M346.67,231.48l3.8,3.8M346.67,235.28l3.8,-3.8M347.04,231.69l3.8,3.8M347.04,235.49l3.8,-3.8M347.41,231.9l3.8,3.8M347.41,235.7l3.8,-3.8M347.78,232.11l3.8,3.8M347.78,235.91l3.8,-3.8M348.15,232.31l3.8,3.8M348.15,236.11l3.8,-3.8M348.52,232.52l3.8,3.8M348.52,236.32l3.8,-3.8M348.89,232.71l3.8,3.8M348.89,236.51l3.8,-3.8M349.26,232.91l3.8,3.8M349.26,236.71l3.8,-3.8M349.63,233.1l3.8,3.8M349.63,236.9l3.8,-3.8M350,233.29l3.8,3.8M350,237.09l3.8,-3.8M350.37,233.48l3.8,3.8M350.37,237.28l3.8,-3.8M350.73,233.67l3.8,3.8M350.73,237.47l3.8,-3.8M351.1,233.85l3.8,3.8M351.1,237.65l3.8,-3.8M351.47,234.03l3.8,3.8M351.47,237.83l3.8,-3.8M351.84,234.21l3.8,3.8M351.84,238.01l3.8,-3.8M352.21,234.38l3.8,3.8M352.21,238.18l3.8,-3.8M352.58,234.55l3.8,3.8M352.58,238.35l3.8,-3.8M352.95,234.72l3.8,3.8M352.95,238.52l3.8,-3.8M353.32,234.89l3.8,3.8M353.32,238.69l3.8,-3.8M353.69,235.06l3.8,3.8M353.69,238.86l3.8,-3.8M354.06,235.22l3.8,3.8M354.06,239.02l3.8,-3.8M354.43,235.38l3.8,3.8M354.43,239.18l3.8,-3.8M354.79,235.54l3.8,3.8M354.79,239.34l3.8,-3.8M355.16,235.69l3.8,3.8M355.16,239.49l3.8,-3.8M355.53,235.85l3.8,3.8M355.53,239.65l3.8,-3.8M355.9,236l3.8,3.8M355.9,239.8l3.8,-3.8M356.27,236.15l3.8,3.8M356.27,239.95l3.8,-3.8M356.64,236.3l3.8,3.8M356.64,240.1l3.8,-3.8M357.01,236.45l3.8,3.8M357.01,240.25l3.8,-3.8M357.38,236.59l3.8,3.8M357.38,240.39l3.8,-3.8M357.75,236.73l3.8,3.8M357.75,240.53l3.8,-3.8M358.12,236.87l3.8,3.8M358.12,240.67l3.8,-3.8M358.49,237.01l3.8,3.8M358.49,240.81l3.8,-3.8M358.85,237.15l3.8,3.8M358.85,240.95l3.8,-3.8M359.22,237.28l3.8,3.8M359.22,241.08l3.8,-3.8M359.59,237.41l3.8,3.8M359.59,241.21l3.8,-3.8M359.96,237.54l3.8,3.8M359.96,241.34l3.8,-3.8M360.33,237.67l3.8,3.8M360.33,241.47l3.8,-3.8M360.7,237.8l3.8,3.8M360.7,241.6l3.8,-3.8M361.07,237.93l3.8,3.8M361.07,241.73l3.8,-3.8M361.44,238.05l3.8,3.8M361.44,241.85l3.8,-3.8M361.81,238.17l3.8,3.8M361.81,241.97l3.8,-3.8M362.18,238.29l3.8,3.8M362.18,242.09l3.8,-3.8M362.55,238.41l3.8,3.8M362.55,242.21l3.8,-3.8M362.92,238.53l3.8,3.8M362.92,242.33l3.8,-3.8M363.28,238.65l3.8,3.8M363.28,242.45l3.8,-3.8M363.65,238.76l3.8,3.8M363.65,242.56l3.8,-3.8M364.02,238.87l3.8,3.8M364.02,242.67l3.8,-3.8M364.39,238.98l3.8,3.8M364.39,242.78l3.8,-3.8M364.76,239.09l3.8,3.8M364.76,242.89l3.8,-3.8M365.13,239.2l3.8,3.8M365.13,243l3.8,-3.8M365.5,239.31l3.8,3.8M365.5,243.11l3.8,-3.8M365.87,239.41l3.8,3.8M365.87,243.21l3.8,-3.8M366.24,239.52l3.8,3.8M366.24,243.32l3.8,-3.8M366.61,239.62l3.8,3.8M366.61,243.42l3.8,-3.8M366.98,239.72l3.8,3.8M366.98,243.52l3.8,-3.8M367.34,239.82l3.8,3.8M367.34,243.62l3.8,-3.8M367.71,239.92l3.8,3.8M367.71,243.72l3.8,-3.8M368.08,240.02l3.8,3.8M368.08,243.82l3.8,-3.8M368.45,240.12l3.8,3.8M368.45,243.92l3.8,-3.8M368.82,240.21l3.8,3.8M368.82,244.01l3.8,-3.8M369.19,240.3l3.8,3.8M369.19,244.1l3.8,-3.8M369.56,240.4l3.8,3.8M369.56,244.2l3.8,-3.8M369.93,240.49l3.8,3.8M369.93,244.29l3.8,-3.8M370.3,240.58l3.8,3.8M370.3,244.38l3.8,-3.8M370.67,240.67l3.8,3.8M370.67,244.47l3.8,-3.8M371.04,240.75l3.8,3.8M371.04,244.55l3.8,-3.8M371.4,240.84l3.8,3.8M371.4,244.64l3.8,-3.8M371.77,240.93l3.8,3.8M371.77,244.73l3.8,-3.8M372.14,241.01l3.8,3.8M372.14,244.81l3.8,-3.8M372.51,241.09l3.8,3.8M372.51,244.89l3.8,-3.8M372.88,241.18l3.8,3.8M372.88,244.98l3.8,-3.8M373.25,241.26l3.8,3.8M373.25,245.06l3.8,-3.8M373.62,241.34l3.8,3.8M373.62,245.14l3.8,-3.8M373.99,241.42l3.8,3.8M373.99,245.22l3.8,-3.8M374.36,241.49l3.8,3.8M374.36,245.29l3.8,-3.8M374.73,241.57l3.8,3.8M374.73,245.37l3.8,-3.8M375.1,241.65l3.8,3.8M375.1,245.45l3.8,-3.8M375.46,241.72l3.8,3.8M375.46,245.52l3.8,-3.8M375.83,241.8l3.8,3.8M375.83,245.6l3.8,-3.8M376.2,241.87l3.8,3.8M376.2,245.67l3.8,-3.8M376.57,241.94l3.8,3.8M376.57,245.74l3.8,-3.8M376.94,242.01l3.8,3.8M376.94,245.81l3.8,-3.8M377.31,242.08l3.8,3.8M377.31,245.88l3.8,-3.8M377.68,242.15l3.8,3.8M377.68,245.95l3.8,-3.8M378.05,242.22l3.8,3.8M378.05,246.02l3.8,-3.8M378.42,242.29l3.8,3.8M378.42,246.09l3.8,-3.8M378.79,242.35l3.8,3.8M378.79,246.15l3.8,-3.8M379.16,242.42l3.8,3.8M379.16,246.22l3.8,-3.8M379.53,242.49l3.8,3.8M379.53,246.29l3.8,-3.8M379.89,242.55l3.8,3.8M379.89,246.35l3.8,-3.8M380.26,242.61l3.8,3.8M380.26,246.41l3.8,-3.8M380.63,242.68l3.8,3.8M380.63,246.48l3.8,-3.8M381,242.74l3.8,3.8M381,246.54l3.8,-3.8M381.37,242.8l3.8,3.8M381.37,246.6l3.8,-3.8M381.74,242.86l3.8,3.8M381.74,246.66l3.8,-3.8M382.11,242.92l3.8,3.8M382.11,246.72l3.8,-3.8M382.48,242.98l3.8,3.8M382.48,246.78l3.8,-3.8M382.85,243.03l3.8,3.8M382.85,246.83l3.8,-3.8M383.22,243.09l3.8,3.8M383.22,246.89l3.8,-3.8M383.59,243.15l3.8,3.8M383.59,246.95l3.8,-3.8M383.95,243.2l3.8,3.8M383.95,247l3.8,-3.8M384.32,243.26l3.8,3.8M384.32,247.06l3.8,-3.8M384.69,243.31l3.8,3.8M384.69,247.11l3.8,-3.8M385.06,243.37l3.8,3.8M385.06,247.17l3.8,-3.8M385.43,243.42l3.8,3.8M385.43,247.22l3.8,-3.8M385.8,243.47l3.8,3.8M385.8,247.27l3.8,-3.8" stroke-width="1.15"/>
<path d="M76,35.5H107" stroke-opacity="0.7"/><path d="M89.6,33.6l3.8,3.8M89.6,37.4l3.8,-3.8" stroke-width="1.15"/>
</g>
<rect x="55.5" y="13.45" width="332.2" height="235.95000000000002" fill="none" stroke="#1a1a1a" stroke-width="1"/>
<g font-family="Liberation Sans, sans-serif" font-size="11.4px" fill="#000" style="filter:grayscale(1)">
<text x="48" y="253.3" text-anchor="end">0</text>
<text x="48" y="220.76" text-anchor="end">0.2</text>
<text x="48" y="188.21" text-anchor="end">0.4</text>
<text x="48" y="155.67" text-anchor="end">0.6</text>
<text x="48" y="123.12" text-anchor="end">0.8</text>
<text x="48" y="90.58" text-anchor="end">1</text>
<text x="48" y="58.03" text-anchor="end">1.2</text>
<text x="48" y="25.49" text-anchor="end">1.4</text>
<text x="56.8" y="265.4" text-anchor="middle">0</text>
<text x="123.24" y="265.4" text-anchor="middle">0.2</text>
<text x="189.68" y="265.4" text-anchor="middle">0.4</text>
<text x="256.12" y="265.4" text-anchor="middle">0.6</text>
<text x="322.56" y="265.4" text-anchor="middle">0.8</text>
<text x="389" y="265.4" text-anchor="middle">1</text>
<text x="69" y="26.8" text-anchor="end">m</text>
<text x="69.4" y="39.1" text-anchor="end" font-family="Liberation Serif, serif" font-style="italic" font-size="13px">χ</text>
<text x="354.3" y="25">(a)</text>
<text transform="translate(12.8,145.9) rotate(-90)">m, <tspan font-family="Liberation Serif, serif" font-style="italic" font-size="13px">χ</tspan></text>
<text x="228.6" y="282.2" text-anchor="middle" font-family="Liberation Serif, serif" font-size="11px">Δ</text>
</g>
</svg>
</body></html>
